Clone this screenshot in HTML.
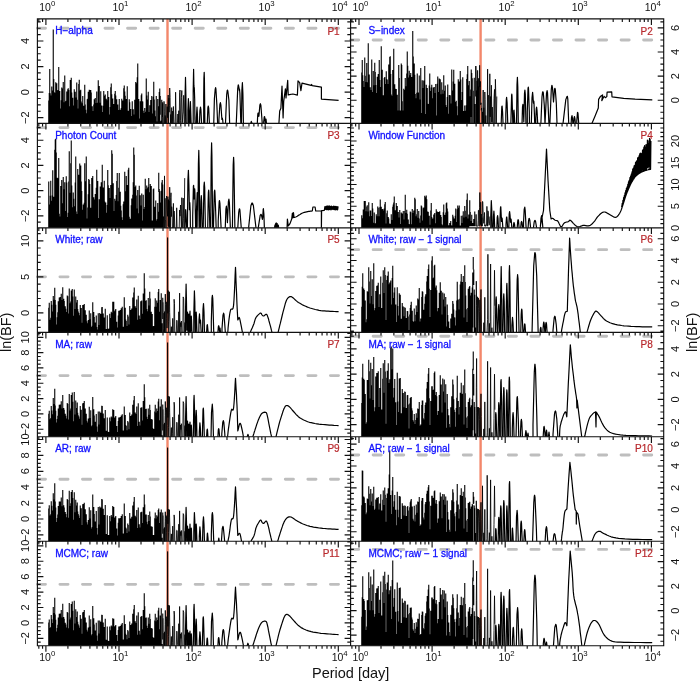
<!DOCTYPE html><html><head><meta charset="utf-8"><style>html,body{margin:0;padding:0;background:#fff;overflow:hidden}svg{display:block;will-change:transform}</style></head><body><svg width="700" height="682" viewBox="0 0 700 682" font-family='"Liberation Sans", sans-serif'><defs><clipPath id="c1"><rect x="37.40" y="18.90" width="313.20" height="104.47"/></clipPath><clipPath id="c2"><rect x="350.60" y="18.90" width="313.10" height="104.47"/></clipPath><clipPath id="c3"><rect x="37.40" y="123.37" width="313.20" height="104.47"/></clipPath><clipPath id="c4"><rect x="350.60" y="123.37" width="313.10" height="104.47"/></clipPath><clipPath id="c5"><rect x="37.40" y="227.83" width="313.20" height="104.47"/></clipPath><clipPath id="c6"><rect x="350.60" y="227.83" width="313.10" height="104.47"/></clipPath><clipPath id="c7"><rect x="37.40" y="332.30" width="313.20" height="104.47"/></clipPath><clipPath id="c8"><rect x="350.60" y="332.30" width="313.10" height="104.47"/></clipPath><clipPath id="c9"><rect x="37.40" y="436.77" width="313.20" height="104.47"/></clipPath><clipPath id="c10"><rect x="350.60" y="436.77" width="313.10" height="104.47"/></clipPath><clipPath id="c11"><rect x="37.40" y="541.23" width="313.20" height="104.47"/></clipPath><clipPath id="c12"><rect x="350.60" y="541.23" width="313.10" height="104.47"/></clipPath></defs><rect width="700" height="682" fill="#fff"/><line x1="167.50" y1="18.90" x2="167.50" y2="123.37" stroke="#f3876b" stroke-width="2.4"/><line x1="37.40" y1="28.25" x2="350.60" y2="28.25" stroke="#bebebe" stroke-width="2.9" stroke-dasharray="8.1 14.44" stroke-linecap="round"/><g clip-path="url(#c1)"><path d="M48.75,100.6V125.4M49.25,92.9V125.4M49.75,69.1V125.4M50.25,93.2V125.4M50.75,107.1V125.4M51.25,95.4V125.4M51.75,86.4V125.4M52.25,112.9V125.4M52.75,90.6V125.4M53.25,29.5V125.4M53.75,79.1V125.4M54.25,92.2V125.4M54.75,100.6V125.4M55.25,92.7V125.4M55.75,82.2V125.4M56.25,88.8V125.4M56.75,83.3V125.4M57.25,101.3V125.4M57.75,90.2V125.4M58.25,89.9V125.4M58.75,66.9V125.4M59.25,101.1V125.4M59.75,90.9V125.4M60.25,108.4V125.4M60.75,112.9V125.4M61.25,100.3V125.4M61.75,87.5V125.4M62.25,92.3V125.4M62.75,88.6V125.4M63.25,81.9V125.4M63.75,103.1V125.4M64.25,102.2V125.4M64.75,75.5V125.4M65.25,112.4V125.4M65.75,101.2V125.4M66.25,100.8V125.4M66.75,91.5V125.4M67.25,94.9V125.4M67.75,89.3V125.4M68.25,88.3V125.4M68.75,90.0V125.4M69.25,106.2V125.4M69.75,113.8V125.4M70.25,80.1V125.4M70.75,98.3V125.4M71.25,77.7V125.4M71.75,92.6V125.4M72.25,109.8V125.4M72.75,97.7V125.4M73.25,105.4V125.4M73.75,105.4V125.4M74.25,89.2V125.4M74.75,102.1V125.4M75.25,91.8V125.4M75.75,97.5V125.4M76.25,114.5V125.4M76.75,82.4V125.4M77.25,99.8V125.4M77.75,109.2V125.4M78.25,108.6V125.4M78.75,83.9V125.4M79.25,79.8V125.4M79.75,90.5V125.4M80.25,105.2V125.4M80.75,89.8V125.4M81.25,101.6V125.4M81.75,103.2V125.4M82.25,110.5V125.4M82.75,95.9V125.4M83.25,110.9V125.4M83.75,105.7V125.4M84.25,106.4V125.4M84.75,84.8V125.4M85.25,104.4V125.4M85.75,109.7V125.4M86.25,113.3V125.4M86.75,114.4V125.4M87.25,99.3V125.4M87.75,98.8V125.4M88.25,91.8V125.4M88.75,94.8V125.4M89.25,89.8V125.4M89.75,90.0V125.4M90.25,108.4V125.4M90.75,90.0V125.4M91.25,92.5V125.4M91.75,112.6V125.4M92.25,106.3V125.4M92.75,115.6V125.4M93.25,111.1V125.4M93.75,104.6V125.4M94.25,99.2V125.4M94.75,108.7V125.4M95.25,98.1V125.4M95.75,107.5V125.4M96.25,103.0V125.4M96.75,91.5V125.4M97.25,102.7V125.4M97.75,104.4V125.4M98.25,80.3V125.4M98.75,90.5V125.4M99.25,85.9V125.4M99.75,102.8V125.4M100.25,108.2V125.4M100.75,91.3V125.4M101.25,115.2V125.4M101.75,105.4V125.4M102.25,115.3V125.4M102.75,111.9V125.4M103.25,105.7V125.4M103.75,91.0V125.4M104.25,115.5V125.4M104.75,95.8V125.4M105.25,94.5V125.4M105.75,115.6V125.4M106.25,98.7V125.4M106.75,100.2V125.4M107.25,104.0V125.4M107.75,91.1V125.4M108.25,115.8V125.4M108.75,97.0V125.4M109.25,114.5V125.4M109.75,115.8V125.4M110.25,107.0V125.4M110.75,87.3V125.4M111.25,83.4V125.4M111.75,94.3V125.4M112.25,116.2V125.4M112.75,98.6V125.4M113.25,106.5V125.4M113.75,103.9V125.4M114.25,110.5V125.4M114.75,93.7V125.4M115.25,91.1V125.4M115.75,95.6V125.4M116.25,104.6V125.4M116.75,99.3V125.4M117.25,112.2V125.4M117.75,104.6V125.4M118.25,109.9V125.4M118.75,116.6V125.4M119.25,99.1V125.4M119.75,109.9V125.4M120.25,109.8V125.4M120.75,117.0V125.4M121.25,107.9V125.4M121.75,98.8V125.4M122.25,111.2V125.4M122.75,100.4V125.4M123.25,108.0V125.4M123.75,88.3V125.4M124.25,85.6V125.4M124.75,91.4V125.4M125.25,95.8V125.4M125.75,117.4V125.4M126.25,99.1V125.4M126.75,103.8V125.4M127.25,86.2V125.4M127.75,114.6V125.4M128.25,110.7V125.4M128.75,117.7V125.4M129.25,99.3V125.4M129.75,102.3V125.4M130.25,112.1V125.4M130.75,108.9V125.4M131.25,115.9V125.4M131.75,118.0V125.4M132.25,101.3V125.4M132.75,115.5V125.4M133.25,109.2V125.4M133.75,114.4V125.4M134.25,118.0V125.4M134.75,99.7V125.4M135.25,105.5V125.4M135.75,81.9V125.4M136.25,85.1V125.4M136.75,83.2V125.4M137.25,77.2V125.4M137.75,63.6V125.4M138.25,110.2V125.4M138.75,98.9V125.4M139.25,118.4V125.4M139.75,118.4V125.4M140.25,101.3V125.4M140.75,115.8V125.4M141.25,95.3V125.4M141.75,93.6V125.4M142.25,101.3V125.4M142.75,101.6V125.4M143.25,110.7V125.4M143.75,118.5V125.4M144.25,113.0V125.4M144.75,108.1V125.4M145.25,112.7V125.4M145.75,111.8V125.4M146.25,78.4V125.4M146.75,95.5V125.4M147.25,117.4V125.4M147.75,99.5V125.4M148.25,91.7V125.4M148.75,118.2V125.4M149.25,111.9V125.4M149.75,105.2V125.4M150.25,114.6V125.4M150.75,100.0V125.4M151.25,103.7V125.4M151.75,96.0V125.4M152.25,114.4V125.4M152.75,113.5V125.4M153.25,96.8V125.4M153.75,81.8V125.4M154.25,99.6V125.4M154.75,110.6V122.3M155.25,119.1V125.4M155.75,116.2V125.4M156.25,95.9V125.4M156.75,125.4V125.4M157.25,121.6V125.4M157.75,98.9V125.4M158.25,111.7V125.4M158.75,106.3V125.0M159.25,92.0V125.4M159.75,88.5V122.9M160.25,96.0V114.7M160.75,121.2V125.4M161.25,120.6V125.4M161.75,99.7V125.4M162.25,102.0V125.4M162.75,103.2V117.1" fill="none" stroke="#000" stroke-width="1.1"/><path d="M163.0,117.1 163.2,125.4 163.5,123.1 163.8,125.4 164.0,101.4 164.3,111.1 164.5,125.4 164.8,125.4 165.1,115.5 165.3,116.6 165.6,125.4 165.9,104.0 166.2,112.9 166.5,125.4 166.7,125.4 167.0,125.4 167.3,106.7 167.6,117.7 167.9,104.9 168.2,95.0 168.5,125.4 168.8,98.1 169.1,112.2 169.4,105.6 169.7,88.0 170.1,97.4 170.4,125.4 170.7,114.5 171.0,125.4 171.4,125.4 171.7,107.6 172.0,125.4 172.4,121.5 172.7,111.1 173.0,125.4 173.4,106.5 173.8,118.0 174.1,125.4 174.5,125.4 174.8,125.4 175.2,125.4 175.6,92.2 176.0,113.2 176.3,125.4 176.7,125.4 177.1,125.4 177.5,122.2 177.9,114.0 178.3,124.0 178.8,110.7 179.2,125.4 179.6,92.4 180.0,90.0 180.5,120.5 180.9,124.2 181.4,97.5 181.8,90.5 182.3,122.8 182.8,114.9 183.2,111.9 183.7,95.3 184.2,125.4 184.7,125.4 185.2,125.4 185.7,125.4" fill="none" stroke="#000" stroke-width="0.85" stroke-linejoin="round"/><path d="M184.9,125.4 184.9,104.8 185.5,77.4 185.9,95.7 186.2,121.8 186.4,125.4M187.9,125.4 187.9,110.2 188.4,98.7 189.2,125.4M189.9,125.4 189.9,112.1 190.4,101.5 191.2,125.4M193.2,125.4 193.2,90.9 193.6,69.4 193.9,85.9 194.2,88.4 194.3,87.7 194.7,99.6 194.9,119.2 195.2,125.4M196.4,125.4 196.4,117.7 197.0,107.1 197.4,114.2 197.7,124.2 197.9,125.4M199.4,125.4 199.9,110.8 200.5,107.0 200.9,109.6 201.7,125.4M203.7,125.4 203.7,96.9 203.9,78.5 204.2,72.3 204.4,78.5 204.9,125.4M207.2,125.4 207.9,107.6 208.3,106.0 208.7,108.1 209.4,123.3 209.7,125.4M213.7,125.4 214.4,98.8 215.2,89.3 215.6,87.7 215.9,88.9 216.9,105.6 217.7,125.4M218.9,125.4 218.9,119.8 219.9,104.3 220.4,102.6 220.9,105.1 221.9,119.5 222.3,118.0 222.7,119.9 223.2,125.4M225.4,125.4 226.7,94.6 227.2,90.7 227.5,90.0 227.9,91.5 228.9,100.3 229.7,125.4M236.2,125.4 237.7,88.9 238.2,85.2 238.4,84.9 238.9,87.3 239.2,90.1 239.5,89.0 239.9,93.2 240.9,125.4M241.4,125.4 241.9,90.0 242.4,82.7 242.9,93.7 243.4,123.0 243.7,125.4M250.7,125.4 250.7,123.6 251.3,121.4 251.7,122.4 252.2,125.4M257.2,125.4 257.7,115.5 257.9,113.6 258.2,113.0 258.4,113.6 258.9,116.3 259.9,104.9 260.4,103.7 260.9,105.5 262.4,125.4M263.7,125.4 263.7,121.9 264.2,117.3 264.5,116.5 264.9,118.2 265.4,124.0 266.0,119.0 266.7,125.4M278.8,125.4 279.7,111.1 280.9,108.3 282.0,86.0 283.1,118.0 283.7,101.4 285.4,88.9 286.0,98.0 287.7,80.3 288.2,95.0 289.4,94.6 292.9,94.0 297.4,95.1 298.0,80.9 299.7,82.6 300.9,90.6 302.0,83.1 311.1,85.4 311.6,84.5 312.2,85.6 321.4,87.1 321.4,99.1 338.6,100.3" fill="none" stroke="#000" stroke-width="1.2" stroke-linejoin="round"/></g><text x="55.20" y="34.40" fill="#1010ff" stroke="#1010ff" stroke-width="0.3" font-size="10">H−alpha</text><text x="339.70" y="34.50" fill="#b8282c" stroke="#b8282c" stroke-width="0.2" font-size="10" text-anchor="end">P1</text><line x1="480.60" y1="18.90" x2="480.60" y2="123.37" stroke="#f3876b" stroke-width="2.4"/><line x1="350.60" y1="39.95" x2="663.70" y2="39.95" stroke="#bebebe" stroke-width="2.9" stroke-dasharray="8.1 14.44" stroke-linecap="round"/><g clip-path="url(#c2)"><path d="M361.75,72.4V125.4M362.25,60.1V125.4M362.75,75.3V125.4M363.25,81.0V125.4M363.75,100.7V125.4M364.25,87.0V125.4M364.75,57.4V125.4M365.25,75.7V125.4M365.75,106.8V125.4M366.25,82.1V125.4M366.75,62.9V125.4M367.25,90.4V125.4M367.75,82.2V125.4M368.25,43.2V125.4M368.75,78.5V125.4M369.25,74.6V125.4M369.75,89.3V125.4M370.25,87.3V125.4M370.75,95.4V125.4M371.25,90.0V125.4M371.75,59.5V125.4M372.25,98.1V125.4M372.75,91.9V125.4M373.25,71.1V125.4M373.75,85.3V125.4M374.25,92.4V125.4M374.75,62.7V125.4M375.25,72.0V125.4M375.75,85.1V125.4M376.25,101.4V125.4M376.75,92.9V125.4M377.25,76.8V125.4M377.75,82.0V125.4M378.25,74.1V125.4M378.75,87.9V125.4M379.25,59.9V125.4M379.75,80.1V125.4M380.25,92.2V125.4M380.75,86.9V125.4M381.25,46.3V125.4M381.75,72.8V125.4M382.25,69.8V125.4M382.75,103.5V125.4M383.25,95.2V125.4M383.75,98.3V125.4M384.25,78.0V125.4M384.75,77.1V125.4M385.25,84.0V125.4M385.75,91.2V125.4M386.25,71.2V125.4M386.75,79.1V125.4M387.25,79.8V125.4M387.75,85.9V125.4M388.25,83.9V125.4M388.75,64.5V125.4M389.25,75.3V125.4M389.75,57.0V125.4M390.25,56.2V125.4M390.75,74.1V125.4M391.25,94.4V125.4M391.75,99.1V125.4M392.25,95.7V125.4M392.75,69.9V125.4M393.25,84.9V125.4M393.75,48.7V125.4M394.25,106.0V125.4M394.75,84.2V125.4M395.25,88.8V125.4M395.75,101.5V125.4M396.25,89.0V125.4M396.75,105.0V125.4M397.25,94.7V125.4M397.75,110.5V125.4M398.25,110.5V125.4M398.75,64.9V125.4M399.25,77.9V125.4M399.75,110.5V125.4M400.25,110.5V125.4M400.75,110.5V125.4M401.25,63.5V125.4M401.75,65.0V125.4M402.25,101.2V125.4M402.75,110.5V125.4M403.25,110.5V125.4M403.75,88.7V125.4M404.25,90.1V125.4M404.75,110.5V125.4M405.25,77.9V125.4M405.75,104.2V125.4M406.25,86.2V125.4M406.75,73.5V125.4M407.25,51.6V125.4M407.75,65.8V125.4M408.25,77.6V125.4M408.75,84.9V125.4M409.25,70.7V125.4M409.75,75.3V125.4M410.25,94.9V125.4M410.75,72.9V125.4M411.25,94.4V125.4M411.75,77.0V125.4M412.25,105.2V125.4M412.75,31.0V125.4M413.25,56.4V125.4M413.75,83.6V125.4M414.25,63.6V125.4M414.75,74.8V125.4M415.25,94.1V125.4M415.75,107.7V125.4M416.25,98.3V125.4M416.75,92.8V125.4M417.25,73.5V125.4M417.75,93.4V125.4M418.25,92.6V125.4M418.75,109.9V125.4M419.25,75.5V125.4M419.75,112.5V125.4M420.25,99.4V125.4M420.75,68.0V125.4M421.25,112.9V125.4M421.75,113.0V125.4M422.25,80.3V125.4M422.75,113.3V125.4M423.25,87.9V125.4M423.75,80.4V125.4M424.25,113.7V125.4M424.75,66.0V125.4M425.25,113.9V125.4M425.75,114.1V125.4M426.25,84.7V125.4M426.75,104.7V125.4M427.25,88.0V125.4M427.75,103.8V125.4M428.25,113.0V125.4M428.75,104.1V125.4M429.25,85.4V125.4M429.75,73.4V125.4M430.25,91.0V125.4M430.75,93.1V125.4M431.25,87.4V125.4M431.75,84.8V125.4M432.25,107.3V125.4M432.75,98.2V125.4M433.25,87.5V125.4M433.75,115.5V125.4M434.25,87.1V125.4M434.75,92.9V125.4M435.25,115.7V125.4M435.75,84.1V125.4M436.25,115.6V125.4M436.75,115.5V125.4M437.25,83.7V125.4M437.75,76.5V125.4M438.25,101.1V125.4M438.75,91.9V125.4M439.25,78.6V125.4M439.75,93.7V125.4M440.25,79.2V125.4M440.75,94.3V125.4M441.25,103.1V125.4M441.75,82.2V125.4M442.25,89.7V125.4M442.75,93.7V125.4M443.25,112.8V125.4M443.75,75.3V125.4M444.25,90.8V125.4M444.75,106.9V125.4M445.25,85.4V125.4M445.75,104.9V125.4M446.25,114.5V125.4M446.75,107.1V125.4M447.25,97.0V125.4M447.75,84.4V125.4M448.25,113.8V125.4M448.75,114.5V125.4M449.25,95.0V125.4M449.75,114.6V125.4M450.25,95.2V125.4M450.75,103.6V125.4M451.25,104.5V125.4M451.75,69.4V125.4M452.25,90.4V125.4M452.75,114.9V125.4M453.25,81.5V125.4M453.75,69.8V125.4M454.25,84.1V125.4M454.75,83.8V125.4M455.25,108.8V125.4M455.75,101.9V125.4M456.25,100.8V125.4M456.75,106.2V125.4M457.25,115.3V125.4M457.75,115.3V125.4M458.25,79.3V125.4M458.75,101.3V125.4M459.25,81.4V125.4M459.75,108.0V125.4M460.25,71.1V125.4M460.75,79.6V125.4M461.25,115.6V125.4M461.75,99.9V125.4M462.25,92.1V125.4M462.75,77.2V125.4M463.25,114.4V125.4M463.75,110.9V125.4M464.25,115.5V125.4M464.75,105.6V125.4M465.25,110.8V125.4M465.75,115.3V125.4M466.25,105.3V125.4M466.75,79.0V125.4M467.25,74.3V125.4M467.75,66.1V125.4M468.25,86.8V118.0M468.75,85.2V125.4M469.25,81.1V125.4M469.75,96.3V125.4M470.25,110.4V125.4M470.75,89.4V117.1M471.25,69.4V96.1M471.75,73.0V125.4M472.25,78.3V125.4M472.75,125.4V125.4M473.25,125.4V125.4M473.75,90.7V125.4M474.25,77.8V125.4M474.75,116.5V125.4M475.25,104.0V125.4M475.75,66.1V96.4" fill="none" stroke="#000" stroke-width="1.1"/><path d="M475.9,66.1 476.1,80.7 476.3,125.4 476.6,90.6 476.9,124.2 477.1,80.8 477.4,125.4 477.6,70.4 477.9,125.4 478.2,86.5 478.4,125.4 478.7,78.3 479.0,101.5 479.3,125.4 479.6,65.3 479.8,87.1 480.1,83.6 480.4,81.4 480.7,104.7 481.0,102.8 481.3,110.3 481.6,108.0 481.9,125.4 482.2,125.4 482.5,111.9 482.8,125.4 483.2,90.0 483.5,125.4 483.8,107.8 484.1,125.4 484.5,125.4 484.8,92.0 485.1,99.4 485.5,125.0 485.8,115.5 486.1,125.4 486.5,125.4 486.9,124.5 487.2,123.4 487.6,69.1 487.9,125.4 488.3,95.2 488.7,96.8 489.1,125.4 489.4,123.3 489.8,73.8 490.2,116.9 490.6,96.5 491.0,125.4 491.4,85.2 491.9,121.9 492.3,107.1 492.7,125.4 493.1,125.4 493.6,125.4 494.0,98.3 494.5,89.4 494.9,125.4 495.4,79.3 495.9,99.1 496.3,125.4 496.8,96.5" fill="none" stroke="#000" stroke-width="0.85" stroke-linejoin="round"/><path d="M501.1,125.4 501.8,106.8 502.1,106.1 502.6,112.2 503.1,125.4M505.8,125.4 505.8,114.3 506.3,99.8 506.6,97.4 507.1,102.7 507.8,125.4M510.8,125.4 511.6,95.8 511.8,94.0 512.0,95.8 512.8,122.7 513.0,125.4M513.3,125.4 513.8,111.0 514.0,110.1 514.5,117.7 514.8,125.4M516.5,125.4 517.0,84.5 517.4,77.4 517.8,86.7 518.3,124.4 518.5,125.4M522.0,125.4 522.5,106.9 522.9,104.3 523.3,107.8 523.8,121.8 524.5,93.3 524.9,90.0 525.3,94.3 526.0,125.4M527.3,125.4 527.3,111.7 528.0,88.6 528.3,87.1 528.5,88.6 529.3,111.7 529.5,125.4M531.3,125.4 532.0,98.1 532.6,92.3 533.0,96.2 533.3,101.7 533.5,103.1 533.8,101.0 534.0,103.1 534.8,125.4M535.8,125.4 535.8,117.7 536.3,108.5 536.6,107.0 537.0,110.4 537.8,125.4M540.8,125.4 542.0,96.7 542.5,92.6 542.9,91.7 543.3,92.8 544.3,105.4 545.0,124.0 546.5,93.4 547.1,90.6 547.5,92.5 549.0,125.4M549.8,125.4 551.3,89.3 551.8,85.7 552.0,85.4 552.5,87.8 553.5,102.0 554.5,89.2 554.9,88.3 555.3,89.5 556.3,103.1 557.0,123.1 557.3,125.4M562.8,125.4 565.8,99.6 567.0,96.5 567.4,96.3 567.8,99.1 568.8,125.4M571.0,125.4 571.5,117.5 572.0,115.7 572.5,118.3 573.0,125.4M573.5,125.4 574.0,118.2 574.5,116.5 575.0,119.0 575.5,125.4M576.8,125.4 576.8,120.6 577.5,112.5 577.7,112.3 578.0,113.6 578.8,124.7 579.0,125.4M591.1,125.4 595.1,116.0 598.3,108.0 598.6,99.4 600.3,96.6 602.6,94.9 601.8,100.6 604.1,96.3 605.4,97.7 606.8,96.6 607.1,92.2 611.7,91.8 612.0,96.8 623.7,98.3 635.1,99.1 652.3,99.8" fill="none" stroke="#000" stroke-width="1.2" stroke-linejoin="round"/></g><text x="368.40" y="34.40" fill="#1010ff" stroke="#1010ff" stroke-width="0.3" font-size="10">S−index</text><text x="652.80" y="34.50" fill="#b8282c" stroke="#b8282c" stroke-width="0.2" font-size="10" text-anchor="end">P2</text><line x1="167.50" y1="123.37" x2="167.50" y2="227.83" stroke="#f3876b" stroke-width="2.4"/><line x1="37.40" y1="127.60" x2="350.60" y2="127.60" stroke="#bebebe" stroke-width="2.9" stroke-dasharray="8.1 14.44" stroke-linecap="round"/><g clip-path="url(#c3)"><path d="M48.75,181.6V229.8M49.25,204.4V229.8M49.75,207.7V229.8M50.25,195.7V229.8M50.75,180.8V229.8M51.25,200.8V229.8M51.75,214.8V229.8M52.25,195.6V229.8M52.75,170.3V229.8M53.25,205.8V229.8M53.75,196.8V229.8M54.25,209.4V229.8M54.75,149.8V229.8M55.25,139.4V229.8M55.75,138.7V229.8M56.25,152.4V229.8M56.75,203.6V229.8M57.25,177.8V229.8M57.75,178.3V229.8M58.25,199.6V229.8M58.75,157.9V229.8M59.25,213.8V229.8M59.75,216.6V229.8M60.25,216.7V229.8M60.75,186.1V229.8M61.25,216.7V229.8M61.75,179.9V229.8M62.25,203.3V229.8M62.75,216.8V229.8M63.25,176.9V229.8M63.75,189.3V229.8M64.25,216.9V229.8M64.75,182.3V229.8M65.25,216.9V229.8M65.75,211.0V229.8M66.25,176.2V229.8M66.75,182.4V229.8M67.25,217.0V229.8M67.75,217.1V229.8M68.25,212.8V229.8M68.75,181.6V229.8M69.25,151.2V229.8M69.75,211.1V229.8M70.25,192.7V229.8M70.75,163.3V229.8M71.25,140.4V229.8M71.75,185.4V229.8M72.25,217.3V229.8M72.75,207.2V229.8M73.25,192.5V229.8M73.75,198.8V229.8M74.25,206.3V229.8M74.75,217.4V229.8M75.25,182.6V229.8M75.75,156.4V229.8M76.25,211.5V229.8M76.75,217.5V229.8M77.25,214.1V229.8M77.75,169.0V229.8M78.25,191.3V229.8M78.75,174.8V229.8M79.25,184.8V229.8M79.75,163.5V229.8M80.25,194.9V229.8M80.75,165.4V229.8M81.25,181.6V229.8M81.75,191.1V229.8M82.25,218.1V229.8M82.75,209.7V229.8M83.25,204.5V229.8M83.75,215.8V229.8M84.25,202.7V229.8M84.75,163.3V229.8M85.25,181.2V229.8M85.75,189.9V229.8M86.25,156.6V229.8M86.75,218.6V229.8M87.25,218.6V229.8M87.75,207.5V229.8M88.25,194.2V229.8M88.75,179.1V229.8M89.25,180.0V229.8M89.75,183.9V229.8M90.25,213.4V229.8M90.75,207.7V229.8M91.25,219.1V229.8M91.75,178.1V229.8M92.25,205.6V229.8M92.75,175.9V229.8M93.25,210.7V229.8M93.75,197.2V229.8M94.25,199.5V229.8M94.75,218.8V229.8M95.25,193.9V229.8M95.75,211.8V229.8M96.25,187.8V229.8M96.75,169.7V229.8M97.25,206.9V229.8M97.75,181.0V229.8M98.25,218.5V229.8M98.75,218.1V229.8M99.25,199.2V229.8M99.75,212.9V229.8M100.25,186.4V229.8M100.75,198.0V229.8M101.25,182.2V229.8M101.75,210.0V229.8M102.25,164.7V229.8M102.75,205.0V229.8M103.25,187.4V229.8M103.75,192.5V229.8M104.25,180.8V229.8M104.75,201.5V229.8M105.25,215.4V229.8M105.75,202.5V229.8M106.25,212.7V229.8M106.75,217.6V229.8M107.25,205.0V229.8M107.75,170.1V229.8M108.25,185.3V229.8M108.75,189.5V229.8M109.25,188.0V229.8M109.75,197.9V229.8M110.25,208.6V229.8M110.75,185.0V229.8M111.25,203.7V229.8M111.75,150.3V229.8M112.25,153.8V229.8M112.75,205.4V229.8M113.25,183.3V229.8M113.75,219.3V229.8M114.25,211.0V229.8M114.75,198.7V229.8M115.25,202.5V229.8M115.75,200.7V229.8M116.25,195.1V229.8M116.75,181.0V229.8M117.25,173.1V229.8M117.75,201.3V229.8M118.25,213.7V229.8M118.75,187.8V229.8M119.25,173.1V229.8M119.75,220.4V229.8M120.25,191.7V229.8M120.75,205.8V229.8M121.25,210.5V229.8M121.75,217.2V229.8M122.25,220.2V229.8M122.75,220.1V229.8M123.25,204.2V229.8M123.75,201.5V229.8M124.25,202.2V229.8M124.75,171.7V229.8M125.25,191.3V229.8M125.75,200.6V229.8M126.25,175.9V229.8M126.75,196.0V229.8M127.25,185.1V229.8M127.75,189.7V229.8M128.25,169.7V229.8M128.75,167.7V229.8M129.25,216.7V229.8M129.75,218.7V229.8M130.25,218.7V229.8M130.75,218.8V229.8M131.25,205.3V229.8M131.75,198.6V229.8M132.25,206.8V229.8M132.75,194.8V229.8M133.25,182.2V229.8M133.75,147.4V229.8M134.25,154.7V229.8M134.75,201.5V229.8M135.25,187.0V229.8M135.75,185.6V229.8M136.25,195.4V229.8M136.75,208.4V229.8M137.25,219.7V229.8M137.75,190.0V229.8M138.25,215.8V229.8M138.75,213.2V229.8M139.25,185.7V229.8M139.75,211.4V229.8M140.25,195.2V229.8M140.75,220.2V229.8M141.25,205.6V229.8M141.75,193.5V229.8M142.25,220.4V229.8M142.75,220.4V229.8M143.25,194.7V229.8M143.75,209.0V229.8M144.25,213.0V229.8M144.75,207.0V229.8M145.25,178.8V229.8M145.75,193.7V229.8M146.25,189.2V229.8M146.75,185.5V229.8M147.25,219.7V229.8M147.75,188.2V229.8M148.25,187.0V229.8M148.75,178.0V229.8M149.25,192.3V229.8M149.75,202.0V229.8M150.25,183.9V229.8M150.75,189.3V229.8M151.25,185.9V229.8M151.75,220.4V229.8M152.25,220.4V229.8M152.75,220.4V229.8M153.25,189.2V229.8M153.75,188.6V229.8M154.25,218.4V229.8M154.75,206.8V229.8M155.25,220.4V229.8M155.75,200.6V226.1M156.25,220.4V229.8M156.75,229.8V229.8M157.25,219.0V229.8M157.75,202.9V229.8M158.25,211.8V229.8M158.75,172.8V191.9M159.25,189.0V229.8M159.75,191.3V229.8M160.25,229.8V229.8M160.75,202.5V229.8M161.25,190.7V229.8M161.75,182.6V229.8M162.25,179.9V192.6M162.75,184.4V229.8" fill="none" stroke="#000" stroke-width="1.1"/><path d="M163.0,229.8 163.2,229.8 163.5,216.6 163.8,224.1 164.0,229.8 164.3,195.2 164.5,175.9 164.8,229.8 165.1,198.3 165.3,219.9 165.6,221.0 165.9,229.8 166.2,229.8 166.5,196.0 166.7,196.7 167.0,199.5 167.3,210.9 167.6,216.3 167.9,196.6 168.2,226.5 168.5,199.6 168.8,226.8 169.1,200.8 169.4,229.8 169.7,187.2 170.1,213.2 170.4,229.8 170.7,197.5 171.0,192.8 171.4,216.6 171.7,206.7 172.0,209.4 172.4,229.8 172.7,227.3 173.0,228.8 173.4,203.4 173.8,229.8 174.1,211.0 174.5,217.0 174.8,229.8 175.2,229.8 175.6,229.8 176.0,229.8 176.3,228.8 176.7,207.8 177.1,229.8 177.5,229.3 177.9,229.8 178.3,229.8 178.8,229.8 179.2,228.7 179.6,210.1 180.0,216.1 180.5,205.0 180.9,213.8 181.4,229.8 181.8,197.7 182.3,220.1 182.8,229.8 183.2,198.1 183.7,218.3 184.2,229.8 184.7,178.1" fill="none" stroke="#000" stroke-width="0.85" stroke-linejoin="round"/><path d="M184.9,229.8 185.4,211.4 185.7,209.5 185.9,211.4 186.7,229.8M187.4,229.8 187.9,180.0 188.4,170.3 188.9,184.8 189.4,209.7 189.8,202.6 190.2,211.9 190.4,227.2 190.7,229.8M192.7,229.8 192.7,216.0 193.4,186.2 193.6,185.3 193.9,189.9 194.2,198.9 194.7,188.8 194.9,192.0 195.7,229.8M196.4,229.8 196.4,212.3 197.2,192.7 197.7,209.3 197.9,226.6 198.4,163.9 198.8,150.4 199.2,168.1 199.7,229.8M200.4,229.8 200.9,201.1 201.3,195.7 201.7,202.8 202.2,229.8M203.2,229.8 203.9,186.4 204.3,182.2 204.7,187.7 205.4,227.3 205.7,229.8M207.7,229.8 208.2,198.8 208.4,192.4 208.7,190.2 208.9,192.4 209.9,229.8M210.7,229.8 211.2,158.4 211.6,142.9 211.9,154.8 212.7,229.8M213.4,229.8 214.2,195.7 214.4,191.6 214.7,190.2 214.9,191.6 215.7,212.3 216.2,229.8M218.2,229.8 218.2,221.0 219.2,201.6 219.5,200.5 219.9,203.0 221.2,229.8M225.2,229.8 225.9,209.0 226.4,206.0 226.9,210.5 227.4,222.6 228.4,201.6 228.9,199.1 229.4,202.9 230.4,229.3 230.7,229.8M232.4,229.8 233.2,165.1 233.6,157.3 233.9,163.3 234.9,229.8M237.7,229.8 238.7,212.6 239.2,209.3 239.5,208.8 239.9,210.0 241.4,229.8M248.4,229.8 250.9,205.7 251.9,203.0 252.4,203.0 253.4,205.7 256.2,229.8M258.4,229.8 258.4,226.8 260.2,215.3 260.9,214.3 261.4,214.9 262.4,219.3 262.7,217.7 263.2,209.4 263.4,208.7 263.9,214.3 264.4,229.0 264.7,229.8M274.7,229.8 274.7,227.8 275.7,223.7 276.3,223.0 276.9,223.8 278.2,229.8M274.2,229.8 275.0,224.8 275.3,229.8 276.0,223.4 276.6,229.8 277.2,223.6 277.7,229.8 278.3,225.2 278.9,229.8M287.0,229.8 287.4,219.0 288.3,226.0 290.0,223.6 291.7,219.0 292.4,213.0 292.9,218.0 293.5,212.7 294.0,217.5 294.0,217.5 294.4,217.4 294.8,217.3 295.1,217.2 295.6,217.0 296.3,216.7 297.2,216.2 298.3,215.4 299.6,214.7 300.8,213.9 302.0,213.3 303.2,212.8 304.3,212.4 305.5,212.1 306.6,211.8 307.7,211.6 308.7,211.4 309.6,211.3 310.5,211.2 311.4,211.1 312.3,211.0 312.9,207.0 315.1,207.0 315.7,211.0 321.4,210.8 321.4,229.8 321.6,210.7 324.3,210.4 324.9,206.5 325.4,209.4 326.0,206.3 326.6,209.7 327.1,205.9 327.7,209.7 328.2,206.2 328.8,209.9 329.3,205.9 329.9,209.3 330.4,206.4 331.0,209.8 331.5,206.2 332.1,209.3 332.6,206.6 333.2,209.4 333.7,206.2 334.3,209.6 334.8,206.4 335.4,209.9 335.9,206.3 336.5,209.7 337.0,206.6 337.6,209.9 338.1,206.4" fill="none" stroke="#000" stroke-width="1.2" stroke-linejoin="round"/></g><text x="55.20" y="138.87" fill="#1010ff" stroke="#1010ff" stroke-width="0.3" font-size="10">Photon Count</text><text x="339.70" y="138.97" fill="#b8282c" stroke="#b8282c" stroke-width="0.2" font-size="10" text-anchor="end">P3</text><line x1="480.60" y1="123.37" x2="480.60" y2="227.83" stroke="#f3876b" stroke-width="2.4"/><g clip-path="url(#c4)"><path d="M361.75,215.2V229.8M362.25,223.0V229.8M362.75,218.3V229.8M363.25,209.4V229.8M363.75,219.5V229.8M364.25,201.0V229.8M364.75,203.3V229.8M365.25,201.0V229.8M365.75,211.2V229.8M366.25,223.1V229.8M366.75,206.4V229.8M367.25,205.3V229.8M367.75,223.1V229.8M368.25,211.5V229.8M368.75,202.3V229.8M369.25,220.7V229.8M369.75,216.2V229.8M370.25,210.6V229.8M370.75,210.6V229.8M371.25,216.1V229.8M371.75,223.2V229.8M372.25,202.9V229.8M372.75,208.6V229.8M373.25,222.7V229.8M373.75,223.3V229.8M374.25,212.6V229.8M374.75,223.2V229.8M375.25,223.3V229.8M375.75,223.3V229.8M376.25,214.3V229.8M376.75,216.2V229.8M377.25,223.4V229.8M377.75,206.6V229.8M378.25,207.7V229.8M378.75,216.2V229.8M379.25,218.4V229.8M379.75,207.2V229.8M380.25,199.4V229.8M380.75,219.5V229.8M381.25,206.7V229.8M381.75,209.3V229.8M382.25,218.1V229.8M382.75,209.0V229.8M383.25,223.5V229.8M383.75,210.5V229.8M384.25,208.5V229.8M384.75,204.3V229.8M385.25,202.0V229.8M385.75,223.6V229.8M386.25,223.6V229.8M386.75,213.2V229.8M387.25,210.6V229.8M387.75,221.8V229.8M388.25,217.0V229.8M388.75,218.4V229.8M389.25,223.6V229.8M389.75,223.7V229.8M390.25,223.7V229.8M390.75,223.7V229.8M391.25,214.3V229.8M391.75,219.9V229.8M392.25,222.2V229.8M392.75,206.7V229.8M393.25,204.5V229.8M393.75,202.4V229.8M394.25,196.5V229.8M394.75,223.8V229.8M395.25,210.2V229.8M395.75,211.4V229.8M396.25,203.1V229.8M396.75,220.7V229.8M397.25,206.1V229.8M397.75,223.9V229.8M398.25,212.0V229.8M398.75,217.4V229.8M399.25,223.9V229.8M399.75,210.1V229.8M400.25,223.9V229.8M400.75,223.9V229.8M401.25,212.5V229.8M401.75,217.6V229.8M402.25,213.4V229.8M402.75,219.9V229.8M403.25,211.0V229.8M403.75,224.0V229.8M404.25,219.4V229.8M404.75,211.0V229.8M405.25,194.8V229.8M405.75,212.9V229.8M406.25,220.3V229.8M406.75,209.7V229.8M407.25,213.7V229.8M407.75,224.1V229.8M408.25,219.6V229.8M408.75,224.1V229.8M409.25,224.2V229.8M409.75,224.2V229.8M410.25,211.5V229.8M410.75,212.2V229.8M411.25,224.2V229.8M411.75,224.2V229.8M412.25,209.0V229.8M412.75,216.0V229.8M413.25,213.1V229.8M413.75,210.5V229.8M414.25,210.6V229.8M414.75,197.8V229.8M415.25,199.3V229.8M415.75,216.3V229.8M416.25,217.7V229.8M416.75,214.3V229.8M417.25,209.0V229.8M417.75,217.8V229.8M418.25,221.0V229.8M418.75,211.1V229.8M419.25,218.6V229.8M419.75,222.7V229.8M420.25,224.5V229.8M420.75,215.4V229.8M421.25,205.5V229.8M421.75,206.5V229.8M422.25,224.5V229.8M422.75,220.5V229.8M423.25,208.2V229.8M423.75,207.4V229.8M424.25,211.3V229.8M424.75,195.7V229.8M425.25,197.3V229.8M425.75,215.1V229.8M426.25,195.4V229.8M426.75,199.2V229.8M427.25,223.3V229.8M427.75,211.6V229.8M428.25,211.9V229.8M428.75,224.7V229.8M429.25,215.8V229.8M429.75,224.7V229.8M430.25,224.8V229.8M430.75,210.6V229.8M431.25,203.0V229.8M431.75,216.9V229.8M432.25,221.2V229.8M432.75,218.4V229.8M433.25,224.9V229.8M433.75,214.4V229.8M434.25,215.2V229.8M434.75,212.9V229.8M435.25,223.3V229.8M435.75,225.0V229.8M436.25,209.2V229.8M436.75,223.4V229.8M437.25,211.5V229.8M437.75,213.3V229.8M438.25,212.1V229.8M438.75,212.1V229.8M439.25,225.1V229.8M439.75,211.2V229.8M440.25,217.0V229.8M440.75,215.1V229.8M441.25,216.9V229.8M441.75,224.2V229.8M442.25,225.2V229.8M442.75,225.2V229.8M443.25,212.3V229.8M443.75,204.6V229.8M444.25,214.7V229.8M444.75,215.0V229.8M445.25,225.2V229.8M445.75,212.5V229.8M446.25,203.3V229.8M446.75,202.6V229.8M447.25,208.6V229.8M447.75,211.4V229.8M448.25,225.3V229.8M448.75,225.3V229.8M449.25,225.3V229.8M449.75,223.1V229.8M450.25,225.4V229.8M450.75,221.0V229.8M451.25,225.2V229.8M451.75,225.4V229.8M452.25,225.4V229.8M452.75,214.7V229.8M453.25,216.5V229.8M453.75,218.4V229.8M454.25,218.4V229.8M454.75,224.9V229.8M455.25,215.7V229.8M455.75,208.5V229.8M456.25,222.6V229.8M456.75,222.0V229.8M457.25,209.3V229.8M457.75,205.5V229.8M458.25,212.5V229.8M458.75,207.8V229.8M459.25,205.4V229.8M459.75,225.6V229.8M460.25,225.6V229.8M460.75,225.6V229.8M461.25,215.8V229.8M461.75,225.6V229.8M462.25,223.0V229.8M462.75,215.5V229.8M463.25,211.3V229.8M463.75,225.6V229.8M464.25,217.5V229.8M464.75,206.0V229.8M465.25,210.8V229.8M465.75,225.5V229.8M466.25,216.8V229.8M466.75,199.7V229.8M467.25,193.4V229.8M467.75,225.6V229.8M468.25,218.5V226.2M468.75,214.4V229.8M469.25,226.2V226.2M469.75,200.2V226.2M470.25,212.1V226.2M470.75,221.0V226.2M471.25,226.2V226.2M471.75,214.7V226.2M472.25,226.2V226.2M472.75,222.9V226.2M473.25,226.2V226.2M473.75,218.9V226.2M474.25,220.7V226.2M474.75,211.5V226.2M475.25,226.2V226.2M475.75,226.2V226.2" fill="none" stroke="#000" stroke-width="1.1"/><path d="M475.9,226.2 476.1,214.4 476.3,226.2 476.6,226.2 476.9,226.2 477.1,226.2 477.4,226.2 477.6,226.2 477.9,226.2 478.2,220.5 478.4,210.3 478.7,210.2 479.0,226.2 479.3,226.2 479.6,207.5 479.8,192.5 480.1,210.5 480.4,224.6 480.7,202.2 481.0,226.2 481.3,214.0 481.6,226.2 481.9,217.6 482.2,226.2 482.5,201.4 482.8,201.8 483.2,215.2 483.5,221.1 483.8,223.4 484.1,221.1 484.5,212.5 484.8,226.2 485.1,224.7 485.5,226.2 485.8,226.2 486.1,226.2 486.5,225.0 486.9,206.4 487.2,215.5 487.6,226.2 487.9,210.8 488.3,211.9 488.7,223.5 489.1,225.3 489.4,224.9 489.8,216.5" fill="none" stroke="#000" stroke-width="0.85" stroke-linejoin="round"/><path d="M490.8,229.8 490.8,215.4 491.3,200.7 491.8,210.6 492.2,229.8M493.2,229.8 493.5,216.3 493.9,211.1 494.2,215.1 494.8,229.8M496.8,229.8 497.2,217.7 497.6,215.7 498.0,218.3 498.5,228.8 498.8,229.8M500.0,229.8 500.0,219.0 500.5,207.6 500.8,206.7 501.5,221.5 501.8,218.9 502.0,218.0 502.2,218.9 503.0,229.8M506.0,229.8 506.0,224.3 506.5,217.6 506.8,217.0 507.2,221.5 507.8,229.8M508.8,229.8 509.2,214.0 509.6,211.5 510.0,214.8 510.5,222.2 510.8,219.8 511.0,219.0 511.2,219.8 512.0,229.8M513.0,229.8 513.8,222.9 514.0,222.5 514.5,224.1 515.0,229.0 515.2,229.8M517.0,229.8 517.8,220.5 518.1,219.6 518.5,220.8 519.2,229.2 519.5,229.8M520.5,229.8 521.2,222.2 521.6,221.5 522.0,222.5 522.8,229.8M523.5,229.8 523.5,223.0 524.2,209.4 524.8,207.2 525.2,210.5 526.2,229.8M528.0,229.8 528.5,221.2 529.0,218.5 529.2,218.3 529.8,220.1 530.8,229.8M533.2,229.8 534.2,221.9 534.8,220.5 535.0,220.3 535.5,221.0 536.8,229.1 537.0,229.8M540.2,229.8 541.0,218.3 541.6,215.7 542.0,216.8 543.0,229.8M540.3,226.2 543.5,210.5 545.0,180.0 546.5,149.1 548.0,180.0 549.8,210.5 551.1,219.0 551.1,219.0 551.4,218.8 551.6,218.6 551.9,218.4 552.2,218.3 552.6,218.3 553.1,218.5 553.6,219.0 554.2,219.4 554.7,219.9 555.3,220.3 555.8,220.5 556.3,220.5 556.8,220.6 557.3,220.7 557.9,221.2 558.5,222.2 559.1,223.6 559.8,225.0 560.4,226.2 561.1,226.8 561.7,226.6 562.4,225.8 563.0,224.7 563.7,223.7 564.4,222.9 565.2,222.5 566.0,222.2 566.8,222.0 567.6,221.8 568.3,221.6 568.8,221.3 569.2,220.8 569.5,220.5 569.8,220.2 570.3,220.3 570.9,220.7 571.7,221.5 572.5,222.4 573.3,223.3 574.1,224.1 574.8,224.8 575.5,225.5 576.3,226.1 577.0,226.6 577.9,226.9 578.9,226.8 579.9,226.5 581.0,226.1 582.1,225.7 583.3,225.4 584.5,225.4 585.8,225.6 587.0,225.8 588.3,225.9 589.4,225.7 590.4,225.2 591.3,224.6 592.2,223.8 593.0,222.9 593.9,221.9 594.8,220.8 595.7,219.5 596.6,218.2 597.5,216.9 598.5,215.8 599.5,214.8 600.6,213.8 601.6,213.0 602.7,212.3 603.8,212.0 604.9,212.0 605.9,212.4 607.0,213.0 608.1,213.6 609.2,214.2 610.4,214.9 611.7,215.7 613.0,216.5 614.2,217.1 615.3,217.3 616.2,217.1 617.0,216.7 617.7,216.0 618.4,215.2 619.1,214.2 619.7,213.2 620.3,212.0 620.9,210.7 621.5,209.2 622.1,207.4 622.8,205.3 623.6,202.8 624.4,200.2 625.2,197.6 626.0,195.2 626.9,192.9 627.8,190.7 628.7,188.5 629.6,186.4 630.5,184.5 631.4,182.7 632.3,181.1 633.1,179.6 634.1,178.2 635.1,176.9 636.2,175.8 637.4,174.7 638.7,173.8 640.0,173.0 641.2,172.3 642.5,171.7 643.8,171.1 645.0,170.7 646.2,170.3 647.3,170.0 648.2,169.7 649.0,169.6 649.7,169.4 650.4,169.3 651.1,169.2M621.5,205.7 621.9,207.1 622.2,203.3 622.6,205.9 622.9,200.3 623.3,203.4 623.6,197.5 624.0,201.2 624.3,195.6 624.7,199.2 625.0,192.8 625.4,197.1 625.7,190.5 626.1,194.8 626.4,188.4 626.8,193.1 627.1,186.8 627.5,191.2 627.8,184.3 628.2,189.4 628.5,181.8 628.9,188.3 629.2,180.3 629.6,186.7 629.9,177.7 630.3,184.7 630.6,176.1 631.0,182.9 631.3,174.2 631.7,182.1 632.0,171.8 632.4,181.2 632.7,169.0 633.1,180.0 633.4,168.2 633.8,178.9 634.1,165.9 634.5,178.0 634.8,165.4 635.2,176.6 635.5,162.5 635.9,175.0 636.2,161.6 636.6,174.5 636.9,160.6 637.3,174.0 637.6,157.9 638.0,173.8 638.3,157.5 638.7,172.6 639.0,155.8 639.4,172.5 639.7,153.9 640.1,172.4 640.4,153.1 640.8,172.3 641.1,153.8 641.5,171.4 641.8,153.4 642.2,170.6 642.5,150.3 642.9,170.2 643.2,149.4 643.6,171.0 643.9,147.0 644.3,170.5 644.6,145.6 645.0,170.6 645.3,147.6 645.7,170.0 646.0,144.7 646.4,169.5 646.7,144.9 647.1,168.1 647.4,140.1 647.8,167.3 648.1,143.9 648.5,167.0 648.8,140.8 649.2,169.2 649.5,138.4 649.9,166.5 650.2,139.5 650.6,168.7 650.9,141.1" fill="none" stroke="#000" stroke-width="1.2" stroke-linejoin="round"/></g><text x="368.40" y="138.87" fill="#1010ff" stroke="#1010ff" stroke-width="0.3" font-size="10">Window Function</text><text x="652.80" y="138.97" fill="#b8282c" stroke="#b8282c" stroke-width="0.2" font-size="10" text-anchor="end">P4</text><line x1="167.50" y1="227.83" x2="167.50" y2="332.30" stroke="#f3876b" stroke-width="2.4"/><line x1="37.40" y1="276.85" x2="350.60" y2="276.85" stroke="#bebebe" stroke-width="2.9" stroke-dasharray="8.1 14.44" stroke-linecap="round"/><g clip-path="url(#c5)"><path d="M48.75,307.7V334.3M49.25,302.8V334.3M49.75,320.7V334.3M50.25,319.8V334.3M50.75,317.8V334.3M51.25,301.1V334.3M51.75,304.7V334.3M52.25,326.7V334.3M52.75,311.4V334.3M53.25,296.0V334.3M53.75,299.7V334.3M54.25,326.0V334.3M54.75,287.8V334.3M55.25,300.1V334.3M55.75,304.7V334.3M56.25,324.4V334.3M56.75,325.2V334.3M57.25,317.3V334.3M57.75,312.2V334.3M58.25,301.2V334.3M58.75,301.9V334.3M59.25,297.6V334.3M59.75,314.0V334.3M60.25,296.9V334.3M60.75,298.9V334.3M61.25,293.8V334.3M61.75,299.9V334.3M62.25,309.4V334.3M62.75,287.3V334.3M63.25,309.4V334.3M63.75,298.7V334.3M64.25,301.0V334.3M64.75,313.4V334.3M65.25,306.3V334.3M65.75,308.7V334.3M66.25,312.1V334.3M66.75,319.2V334.3M67.25,295.4V334.3M67.75,296.3V334.3M68.25,319.8V334.3M68.75,313.4V334.3M69.25,288.6V334.3M69.75,303.2V334.3M70.25,316.9V334.3M70.75,301.5V334.3M71.25,290.5V334.3M71.75,305.6V334.3M72.25,289.0V334.3M72.75,296.5V334.3M73.25,323.5V334.3M73.75,315.8V334.3M74.25,289.6V334.3M74.75,311.0V334.3M75.25,308.9V334.3M75.75,296.6V334.3M76.25,302.6V334.3M76.75,308.4V334.3M77.25,300.1V334.3M77.75,308.9V334.3M78.25,311.6V334.3M78.75,313.0V334.3M79.25,315.3V334.3M79.75,320.5V334.3M80.25,305.0V334.3M80.75,325.3V334.3M81.25,308.1V334.3M81.75,326.4V334.3M82.25,322.7V334.3M82.75,305.0V334.3M83.25,304.9V334.3M83.75,305.3V334.3M84.25,304.1V334.3M84.75,312.2V334.3M85.25,310.3V334.3M85.75,328.2V334.3M86.25,314.7V334.3M86.75,321.2V334.3M87.25,323.2V334.3M87.75,323.7V334.3M88.25,320.0V334.3M88.75,325.3V334.3M89.25,310.6V334.3M89.75,324.6V334.3M90.25,319.3V334.3M90.75,313.3V334.3M91.25,329.4V334.3M91.75,326.9V334.3M92.25,325.8V334.3M92.75,302.2V334.3M93.25,329.4V334.3M93.75,311.9V334.3M94.25,317.0V334.3M94.75,325.7V334.3M95.25,322.6V334.3M95.75,327.4V334.3M96.25,315.4V334.3M96.75,327.1V334.3M97.25,329.6V334.3M97.75,329.6V334.3M98.25,313.2V334.3M98.75,325.1V334.3M99.25,329.7V334.3M99.75,313.0V334.3M100.25,329.7V334.3M100.75,314.0V334.3M101.25,324.3V334.3M101.75,307.3V334.3M102.25,307.1V334.3M102.75,316.9V334.3M103.25,313.6V334.3M103.75,320.6V334.3M104.25,317.5V334.3M104.75,319.9V334.3M105.25,308.7V334.3M105.75,329.2V334.3M106.25,329.1V334.3M106.75,329.0V334.3M107.25,315.2V334.3M107.75,328.8V334.3M108.25,328.7V334.3M108.75,328.7V334.3M109.25,328.6V334.3M109.75,313.8V334.3M110.25,318.1V334.3M110.75,318.1V334.3M111.25,311.8V334.3M111.75,312.7V334.3M112.25,315.3V334.3M112.75,301.7V334.3M113.25,327.9V334.3M113.75,301.8V334.3M114.25,323.7V334.3M114.75,311.3V334.3M115.25,310.3V334.3M115.75,308.9V334.3M116.25,326.6V334.3M116.75,321.8V334.3M117.25,327.5V334.3M117.75,327.5V334.3M118.25,315.4V334.3M118.75,310.7V334.3M119.25,310.8V334.3M119.75,324.9V334.3M120.25,310.1V334.3M120.75,319.4V334.3M121.25,308.3V334.3M121.75,327.4V334.3M122.25,306.7V334.3M122.75,327.3V334.3M123.25,326.8V334.3M123.75,327.3V334.3M124.25,297.3V334.3M124.75,309.8V334.3M125.25,307.8V334.3M125.75,319.6V334.3M126.25,320.9V334.3M126.75,327.2V334.3M127.25,325.9V334.3M127.75,314.8V334.3M128.25,316.4V334.3M128.75,324.4V334.3M129.25,326.6V334.3M129.75,306.0V334.3M130.25,322.3V334.3M130.75,310.1V334.3M131.25,312.4V334.3M131.75,308.4V334.3M132.25,315.3V334.3M132.75,297.4V334.3M133.25,326.0V334.3M133.75,292.4V334.3M134.25,287.5V334.3M134.75,311.9V334.3M135.25,306.2V334.3M135.75,307.9V334.3M136.25,316.3V334.3M136.75,299.4V334.3M137.25,319.7V334.3M137.75,321.6V334.3M138.25,295.7V334.3M138.75,324.8V334.3M139.25,315.4V334.3M139.75,319.0V334.3M140.25,324.5V334.3M140.75,301.2V334.3M141.25,322.7V334.3M141.75,300.6V334.3M142.25,313.8V334.3M142.75,319.2V334.3M143.25,293.5V334.3M143.75,313.8V334.3M144.25,273.2V334.3M144.75,288.4V334.3M145.25,305.9V334.3M145.75,300.9V334.3M146.25,300.3V334.3M146.75,309.0V334.3M147.25,324.3V334.3M147.75,311.2V334.3M148.25,298.0V334.3M148.75,305.4V334.3M149.25,316.0V334.3M149.75,291.7V334.3M150.25,298.6V334.3M150.75,313.0V334.3M151.25,311.8V334.3M151.75,314.4V334.3M152.25,314.0V334.3M152.75,326.3V334.3M153.25,329.0V334.3M153.75,326.0V334.3M154.25,328.2V334.3M154.75,306.7V334.3M155.25,298.3V334.3M155.75,306.8V334.3M156.25,316.5V334.3M156.75,300.6V334.3M157.25,302.7V334.3M157.75,310.0V334.3M158.25,291.9V334.3M158.75,288.9V334.3M159.25,334.3V334.3M159.75,311.8V334.3M160.25,300.0V334.3M160.75,303.9V334.3M161.25,293.2V334.3M161.75,323.8V334.3M162.25,323.2V334.3M162.75,297.7V319.1" fill="none" stroke="#000" stroke-width="1.1"/><path d="M163.0,302.3 163.2,330.0 163.5,334.3 163.8,328.3 164.0,313.1 164.3,333.1 164.5,311.6 164.8,334.3 165.1,306.0 165.3,294.1 165.6,304.6 165.9,334.3 166.2,301.8 166.5,304.1 166.7,318.6 167.0,328.1 167.3,320.9 167.6,237.6 167.9,313.3 168.2,290.6 168.5,321.8 168.8,334.3 169.1,306.5 169.4,291.8 169.7,312.6 170.1,324.1 170.4,334.3 170.7,334.3 171.0,334.3 171.4,326.7 171.7,334.3 172.0,334.3 172.4,332.5 172.7,318.4 173.0,334.3 173.4,334.3 173.8,334.3 174.1,299.3 174.5,303.5 174.8,334.3 175.2,334.3 175.6,334.3 176.0,334.3 176.3,334.3 176.7,320.2 177.1,320.8 177.5,332.9 177.9,334.3 178.3,334.3 178.8,311.8 179.2,334.3 179.6,293.1 180.0,334.3 180.5,322.6 180.9,326.8 181.4,321.0 181.8,334.3 182.3,334.3 182.8,333.7 183.2,296.9 183.7,298.7 184.2,334.3 184.7,322.4" fill="none" stroke="#000" stroke-width="0.85" stroke-linejoin="round"/><path d="M185.5,334.3 185.5,312.5 186.1,284.0 186.5,303.1 186.8,330.2 187.5,312.2 188.0,331.9 188.7,314.0 189.0,321.6 189.3,334.3M189.5,334.3 189.8,313.7 190.0,311.2 190.5,331.6 190.8,330.4 191.0,319.6 191.3,316.0 191.5,319.6 192.0,334.3M193.8,334.3 193.8,314.6 194.4,290.9 194.8,301.4 195.3,334.3M195.5,334.3 195.8,318.4 196.2,312.0 196.5,316.9 197.0,334.3M198.8,334.3 199.0,319.9 199.5,313.8 200.0,323.0 200.5,320.1 201.3,334.3M202.5,334.3 203.0,309.2 203.5,303.5 204.0,312.0 204.5,334.3M206.5,334.3 207.0,325.5 207.3,324.6 207.5,325.5 208.3,334.3M211.3,334.3 211.3,321.7 212.0,298.1 212.4,295.4 212.8,298.9 213.8,334.3M217.8,334.3 218.3,327.0 218.7,325.7 219.0,326.7 219.5,331.3 220.0,328.0 220.8,334.3M222.0,334.3 222.0,328.6 223.0,315.1 223.6,313.1 224.0,314.4 225.5,334.3M227.6,334.0 227.9,331.0 228.1,327.9 228.4,324.9 228.7,322.0 229.0,319.4 229.3,317.1 229.6,314.9 229.9,313.0 230.3,311.2 230.7,309.7 231.2,309.0 231.8,309.1 232.5,309.1 233.1,308.1 233.6,305.1 234.0,299.7 234.4,292.4 234.8,284.1 235.1,275.5 235.5,267.4 235.8,274.1 236.0,281.0 236.3,287.9 236.6,294.3 236.8,300.0 237.0,304.8 237.2,308.9 237.4,312.6 237.6,316.2 237.8,320.0 238.1,319.4 238.5,318.5 238.8,317.7 239.2,317.5 239.6,318.3 240.1,320.3 240.7,323.3 241.4,326.9 242.1,330.6 242.7,334.0M250.2,334.0 250.3,333.5 250.3,333.2 250.3,332.7 250.4,332.2 250.7,331.4 251.1,330.3 251.7,329.0 252.4,327.5 253.0,326.0 253.6,324.6 254.1,323.2 254.5,321.7 254.9,320.3 255.3,318.9 255.9,317.7 256.7,316.5 257.7,315.4 258.7,314.4 259.7,313.6 260.4,313.1 260.9,313.1 261.2,313.4 261.5,313.9 261.7,314.5 262.0,314.9 262.3,315.2 262.6,315.5 263.0,315.8 263.3,316.0 263.7,316.0 264.2,315.8 264.7,315.3 265.3,314.8 265.8,314.4 266.3,314.3 266.6,314.4 266.9,314.7 267.1,315.1 267.4,315.7 267.7,316.6 268.1,317.8 268.6,319.3 269.0,321.0 269.5,322.8 270.0,324.6 270.5,326.4 271.0,328.3 271.4,330.2 271.9,332.1 272.4,334.0M277.7,334.0 278.2,331.9 278.7,329.9 279.2,327.9 279.7,325.7 280.3,323.4 280.9,320.8 281.6,318.0 282.3,315.0 283.0,312.2 283.7,309.7 284.3,307.4 284.9,305.2 285.4,303.2 286.0,301.5 286.6,300.0 287.3,298.8 287.9,298.0 288.7,297.3 289.3,296.9 290.0,296.6 290.6,296.5 291.1,296.6 291.6,296.8 292.2,297.2 292.9,297.7 293.7,298.3 294.5,299.1 295.4,300.0 296.4,300.9 297.4,301.7 298.4,302.4 299.5,303.1 300.7,303.8 301.9,304.5 303.1,305.1 304.4,305.7 305.7,306.3 307.0,306.9 308.5,307.5 310.0,308.0 311.7,308.5 313.5,309.0 315.3,309.5 317.2,309.9 319.1,310.3 320.9,310.6 322.7,310.8 324.5,310.9 326.4,311.1 328.3,311.2 330.3,311.3 332.3,311.4 334.4,311.5 336.5,311.6 338.6,311.7" fill="none" stroke="#000" stroke-width="1.2" stroke-linejoin="round"/></g><text x="55.20" y="243.33" fill="#1010ff" stroke="#1010ff" stroke-width="0.3" font-size="10">White; raw</text><text x="339.70" y="243.43" fill="#b8282c" stroke="#b8282c" stroke-width="0.2" font-size="10" text-anchor="end">P5</text><line x1="480.60" y1="227.83" x2="480.60" y2="332.30" stroke="#f3876b" stroke-width="2.4"/><line x1="350.60" y1="249.65" x2="663.70" y2="249.65" stroke="#bebebe" stroke-width="2.9" stroke-dasharray="8.1 14.44" stroke-linecap="round"/><g clip-path="url(#c6)"><path d="M361.75,306.8V334.3M362.25,286.7V334.3M362.75,273.3V334.3M363.25,312.4V334.3M363.75,288.5V334.3M364.25,290.1V334.3M364.75,315.4V334.3M365.25,300.5V334.3M365.75,322.3V334.3M366.25,322.2V334.3M366.75,319.3V334.3M367.25,291.2V334.3M367.75,318.8V334.3M368.25,291.8V334.3M368.75,267.3V334.3M369.25,281.5V334.3M369.75,319.9V334.3M370.25,303.6V334.3M370.75,271.1V334.3M371.25,321.8V334.3M371.75,295.9V334.3M372.25,279.3V334.3M372.75,304.3V334.3M373.25,310.9V334.3M373.75,263.2V334.3M374.25,321.5V334.3M374.75,310.3V334.3M375.25,308.1V334.3M375.75,291.0V334.3M376.25,292.3V334.3M376.75,285.9V334.3M377.25,285.6V334.3M377.75,303.9V334.3M378.25,282.7V334.3M378.75,321.0V334.3M379.25,306.9V334.3M379.75,294.2V334.3M380.25,301.9V334.3M380.75,276.5V334.3M381.25,320.7V334.3M381.75,308.0V334.3M382.25,310.2V334.3M382.75,282.7V334.3M383.25,270.2V334.3M383.75,320.3V334.3M384.25,293.0V334.3M384.75,267.2V334.3M385.25,275.0V334.3M385.75,320.1V334.3M386.25,320.0V334.3M386.75,280.0V334.3M387.25,275.7V334.3M387.75,277.4V334.3M388.25,271.6V334.3M388.75,284.3V334.3M389.25,319.5V334.3M389.75,282.5V334.3M390.25,314.2V334.3M390.75,280.6V334.3M391.25,304.5V334.3M391.75,306.9V334.3M392.25,278.1V334.3M392.75,265.7V334.3M393.25,305.0V334.3M393.75,298.0V334.3M394.25,292.6V334.3M394.75,287.4V334.3M395.25,321.7V334.3M395.75,304.4V334.3M396.25,322.1V334.3M396.75,323.0V334.3M397.25,287.3V334.3M397.75,306.1V334.3M398.25,324.3V334.3M398.75,315.6V334.3M399.25,293.3V334.3M399.75,325.5V334.3M400.25,294.8V334.3M400.75,326.1V334.3M401.25,318.8V334.3M401.75,326.6V334.3M402.25,303.0V334.3M402.75,327.0V334.3M403.25,306.5V334.3M403.75,316.2V334.3M404.25,323.8V334.3M404.75,307.2V334.3M405.25,307.9V334.3M405.75,318.2V334.3M406.25,318.0V334.3M406.75,328.9V334.3M407.25,311.0V334.3M407.75,311.2V334.3M408.25,316.4V334.3M408.75,329.9V334.3M409.25,329.9V334.3M409.75,314.4V334.3M410.25,307.9V334.3M410.75,304.9V334.3M411.25,301.7V334.3M411.75,311.7V334.3M412.25,310.8V334.3M412.75,320.9V334.3M413.25,321.9V334.3M413.75,322.0V334.3M414.25,308.4V334.3M414.75,321.3V334.3M415.25,321.2V334.3M415.75,314.8V334.3M416.25,305.5V334.3M416.75,326.2V334.3M417.25,311.9V334.3M417.75,298.4V334.3M418.25,299.6V334.3M418.75,321.7V334.3M419.25,288.1V334.3M419.75,321.4V334.3M420.25,324.2V334.3M420.75,318.6V334.3M421.25,323.5V334.3M421.75,297.1V334.3M422.25,291.3V334.3M422.75,291.8V334.3M423.25,309.8V334.3M423.75,319.1V334.3M424.25,309.8V334.3M424.75,303.7V334.3M425.25,296.6V334.3M425.75,294.3V334.3M426.25,303.7V334.3M426.75,281.6V334.3M427.25,275.9V334.3M427.75,277.3V334.3M428.25,269.0V334.3M428.75,264.6V334.3M429.25,288.7V334.3M429.75,317.3V334.3M430.25,317.0V334.3M430.75,290.0V334.3M431.25,314.2V334.3M431.75,260.6V334.3M432.25,256.3V334.3M432.75,309.2V334.3M433.25,278.2V334.3M433.75,277.5V334.3M434.25,265.8V334.3M434.75,264.7V334.3M435.25,287.4V334.3M435.75,317.2V334.3M436.25,285.5V334.3M436.75,290.3V334.3M437.25,311.3V334.3M437.75,319.4V334.3M438.25,308.0V334.3M438.75,320.5V334.3M439.25,292.8V334.3M439.75,310.2V334.3M440.25,282.3V334.3M440.75,307.8V334.3M441.25,290.8V334.3M441.75,323.0V334.3M442.25,314.6V334.3M442.75,292.4V334.3M443.25,299.4V334.3M443.75,324.2V334.3M444.25,293.6V334.3M444.75,306.5V334.3M445.25,321.3V334.3M445.75,297.0V334.3M446.25,326.6V334.3M446.75,326.9V334.3M447.25,304.4V334.3M447.75,315.0V334.3M448.25,323.6V334.3M448.75,321.5V334.3M449.25,328.1V334.3M449.75,328.3V334.3M450.25,328.5V334.3M450.75,318.5V334.3M451.25,322.5V334.3M451.75,313.7V334.3M452.25,329.1V334.3M452.75,300.9V334.3M453.25,303.7V334.3M453.75,309.5V334.3M454.25,317.3V334.3M454.75,317.4V334.3M455.25,326.1V334.3M455.75,325.6V334.3M456.25,310.5V334.3M456.75,300.5V334.3M457.25,281.8V334.3M457.75,302.4V334.3M458.25,299.4V334.3M458.75,322.5V334.3M459.25,309.5V334.3M459.75,298.8V334.3M460.25,284.4V334.3M460.75,281.5V334.3M461.25,273.9V334.3M461.75,320.4V334.3M462.25,281.9V334.3M462.75,285.5V334.3M463.25,276.0V334.3M463.75,317.6V334.3M464.25,321.3V334.3M464.75,265.3V334.3M465.25,282.1V334.3M465.75,295.4V334.3M466.25,309.3V334.3M466.75,322.1V334.3M467.25,322.3V334.3M467.75,307.9V334.3M468.25,288.8V334.3M468.75,322.7V334.3M469.25,287.1V334.3M469.75,286.0V334.3M470.25,334.3V334.3M470.75,295.6V334.3M471.25,292.7V334.3M471.75,334.3V334.3M472.25,287.6V334.3M472.75,272.4V327.4M473.25,257.0V269.4M473.75,269.5V284.9M474.25,289.6V334.3M474.75,294.7V334.3M475.25,334.3V334.3M475.75,327.6V334.3" fill="none" stroke="#000" stroke-width="1.1"/><path d="M475.9,334.3 476.1,329.0 476.3,281.2 476.6,305.4 476.9,334.3 477.1,334.3 477.4,296.8 477.6,328.1 477.9,334.3 478.2,308.0 478.4,297.9 478.7,308.7 479.0,323.9 479.3,334.3 479.6,311.6 479.8,299.8 480.1,334.3 480.4,331.0 480.7,297.7 481.0,289.5 481.3,309.1 481.6,334.3 481.9,334.3 482.2,334.3 482.5,334.3 482.8,334.3 483.2,334.3 483.5,333.9 483.8,322.7 484.1,334.3 484.5,334.3 484.8,297.3 485.1,334.3 485.5,334.3 485.8,334.3 486.1,334.3 486.5,334.3 486.9,334.3 487.2,327.1 487.6,319.5 487.9,254.3 488.3,331.2 488.7,333.9 489.1,334.3 489.4,323.4 489.8,334.3 490.2,321.7 490.6,264.0 491.0,334.3 491.4,334.3 491.9,327.7 492.3,334.3 492.7,334.3 493.1,334.3 493.6,334.3 494.0,314.2 494.5,270.3 494.9,305.7" fill="none" stroke="#000" stroke-width="0.85" stroke-linejoin="round"/><path d="M495.4,334.3 495.7,308.7 495.9,299.8 496.2,296.8 496.4,299.8 497.2,334.3M497.9,334.3 498.4,309.4 498.8,304.5 499.2,310.9 499.7,334.3M500.4,334.3 500.4,306.7 501.2,266.6 501.7,300.6 501.9,334.3M502.9,334.3 503.4,300.0 503.8,293.8 504.2,301.9 504.7,334.3M506.2,334.3 506.2,313.1 506.7,285.5 506.9,283.3 507.4,301.6 507.9,334.3M508.7,334.3 509.2,272.7 509.5,265.6 509.9,281.5 510.4,334.3M511.9,334.3 511.9,325.5 512.5,317.4 513.0,322.8 513.5,334.3M516.5,334.3 516.5,315.6 517.2,279.6 517.6,274.7 518.0,278.5 519.0,331.1 519.2,334.3M520.7,334.3 521.2,314.2 521.5,310.3 521.7,309.0 522.0,310.3 523.0,334.3M524.0,334.3 524.0,330.6 524.5,324.6 524.7,323.8 525.0,324.6 525.7,334.3M532.0,334.3 533.7,266.0 534.7,253.3 535.0,252.6 535.5,254.2 536.7,275.5 538.2,334.3M540.2,334.3 540.2,330.3 540.5,328.0 540.7,327.3 541.0,328.0 541.5,334.3M543.0,334.3 543.0,329.2 543.5,323.2 543.8,322.0 544.2,323.6 545.0,334.3M545.2,334.3 545.7,324.4 546.1,322.3 546.5,323.9 547.2,334.3M553.0,334.3 553.0,330.4 554.2,317.7 554.8,316.2 555.2,316.9 556.2,324.3 557.0,334.3M561.2,334.0 561.2,333.6 561.2,333.3 561.2,332.9 561.3,332.3 561.5,331.1 561.8,329.2 562.3,326.6 562.8,323.8 563.4,321.1 563.8,318.9 564.1,317.2 564.4,315.7 564.7,314.4 565.0,313.4 565.3,312.5 565.7,311.9 566.1,311.6 566.5,311.5 566.9,311.5 567.3,311.3 567.5,304.0 567.7,296.7 568.0,289.3 568.2,282.0 568.4,274.7 568.6,267.4 568.9,260.1 569.1,252.7 569.4,245.4 569.6,238.1 569.9,242.4 570.1,246.6 570.4,250.8 570.7,255.1 571.0,259.5 571.4,264.1 571.7,268.8 572.2,273.6 572.6,278.2 573.0,282.4 573.4,286.2 573.9,289.8 574.3,293.1 574.8,296.2 575.2,299.1 575.6,301.4 576.1,303.2 576.5,304.8 577.0,306.9 577.5,309.8 578.1,313.8 578.6,318.5 579.3,323.7 579.9,328.9 580.5,334.0M586.5,334.0 587.3,331.2 588.1,328.3 588.9,325.5 589.7,322.8 590.5,320.5 591.3,318.5 592.1,316.7 592.9,315.2 593.6,313.9 594.3,312.8 594.8,312.0 595.3,311.5 595.6,311.2 596.1,311.2 596.6,311.3 597.2,311.7 597.9,312.4 598.7,313.2 599.5,314.2 600.4,315.1 601.3,316.1 602.3,317.2 603.3,318.4 604.5,319.5 605.7,320.5 607.0,321.3 608.5,322.0 610.0,322.7 611.6,323.3 613.4,323.8 615.3,324.3 617.4,324.8 619.5,325.1 621.7,325.5 624.0,325.8 626.3,326.0 628.6,326.2 631.0,326.4 633.5,326.5 636.2,326.6 639.2,326.7 642.3,326.8 645.6,326.8 648.9,326.8 652.2,326.9" fill="none" stroke="#000" stroke-width="1.2" stroke-linejoin="round"/></g><text x="368.40" y="243.33" fill="#1010ff" stroke="#1010ff" stroke-width="0.3" font-size="10">White; raw − 1 signal</text><text x="652.80" y="243.43" fill="#b8282c" stroke="#b8282c" stroke-width="0.2" font-size="10" text-anchor="end">P6</text><line x1="167.50" y1="332.30" x2="167.50" y2="436.77" stroke="#f3876b" stroke-width="2.4"/><line x1="37.40" y1="375.60" x2="350.60" y2="375.60" stroke="#bebebe" stroke-width="2.9" stroke-dasharray="8.1 14.44" stroke-linecap="round"/><g clip-path="url(#c7)"><path d="M48.75,413.7V438.8M49.25,410.7V438.8M49.75,419.8V438.8M50.25,419.2V438.8M50.75,418.0V438.8M51.25,406.1V438.8M51.75,410.4V438.8M52.25,422.4V438.8M52.75,414.2V438.8M53.25,398.1V438.8M53.75,404.0V438.8M54.25,425.1V438.8M54.75,388.7V438.8M55.25,405.5V438.8M55.75,410.8V438.8M56.25,422.6V438.8M56.75,428.4V438.8M57.25,418.9V438.8M57.75,415.8V438.8M58.25,408.6V438.8M58.75,409.4V438.8M59.25,404.7V438.8M59.75,417.9V438.8M60.25,404.5V438.8M60.75,406.9V438.8M61.25,401.2V438.8M61.75,408.5V438.8M62.25,415.7V438.8M62.75,394.9V438.8M63.25,416.1V438.8M63.75,408.0V438.8M64.25,409.8V438.8M64.75,419.5V438.8M65.25,413.8V438.8M65.75,415.7V438.8M66.25,418.4V438.8M66.75,424.3V438.8M67.25,402.9V438.8M67.75,403.9V438.8M68.25,424.8V438.8M68.75,419.4V438.8M69.25,394.0V438.8M69.75,410.4V438.8M70.25,422.4V438.8M70.75,408.6V438.8M71.25,394.9V438.8M71.75,412.1V438.8M72.25,392.5V438.8M72.75,401.8V438.8M73.25,428.5V438.8M73.75,421.3V438.8M74.25,391.9V438.8M74.75,416.6V438.8M75.25,414.5V438.8M75.75,400.4V438.8M76.25,408.0V438.8M76.75,413.3V438.8M77.25,402.5V438.8M77.75,412.8V438.8M78.25,415.3V438.8M78.75,416.6V438.8M79.25,418.8V438.8M79.75,423.8V438.8M80.25,406.1V438.8M80.75,428.4V438.8M81.25,409.8V438.8M81.75,429.8V438.8M82.25,424.8V438.8M82.75,403.5V438.8M83.25,403.1V438.8M83.75,403.1V438.8M84.25,401.1V438.8M84.75,411.6V438.8M85.25,408.6V438.8M85.75,430.8V438.8M86.25,413.7V438.8M86.75,420.8V438.8M87.25,422.6V438.8M87.75,423.0V438.8M88.25,418.5V438.8M88.75,424.6V438.8M89.25,406.7V438.8M89.75,423.7V438.8M90.25,417.9V438.8M90.75,410.3V438.8M91.25,431.3V438.8M91.75,426.3V438.8M92.25,425.2V438.8M92.75,397.1V438.8M93.25,431.1V438.8M93.75,409.2V438.8M94.25,415.5V438.8M94.75,425.0V438.8M95.25,421.7V438.8M95.75,426.8V438.8M96.25,413.9V438.8M96.75,426.5V438.8M97.25,431.8V438.8M97.75,431.8V438.8M98.25,411.5V438.8M98.75,424.5V438.8M99.25,430.6V438.8M99.75,411.6V438.8M100.25,431.9V438.8M100.75,412.8V438.8M101.25,423.7V438.8M101.75,405.8V438.8M102.25,406.0V438.8M102.75,416.6V438.8M103.25,413.5V438.8M103.75,420.9V438.8M104.25,418.2V438.8M104.75,420.7V438.8M105.25,409.9V438.8M105.75,431.9V438.8M106.25,430.8V438.8M106.75,431.9V438.8M107.25,417.6V438.8M107.75,431.5V438.8M108.25,431.9V438.8M108.75,431.9V438.8M109.25,431.9V438.8M109.75,417.6V438.8M110.25,421.3V438.8M110.75,421.6V438.8M111.25,416.5V438.8M111.75,417.6V438.8M112.25,420.0V438.8M112.75,409.3V438.8M113.25,431.9V438.8M113.75,409.9V438.8M114.25,427.2V438.8M114.75,417.7V438.8M115.25,417.2V438.8M115.75,416.1V438.8M116.25,429.7V438.8M116.75,426.0V438.8M117.25,431.9V438.8M117.75,431.9V438.8M118.25,421.1V438.8M118.75,417.5V438.8M119.25,417.5V438.8M119.75,428.7V438.8M120.25,417.0V438.8M120.75,424.4V438.8M121.25,415.5V438.8M121.75,431.9V438.8M122.25,414.2V438.8M122.75,431.9V438.8M123.25,430.6V438.8M123.75,431.9V438.8M124.25,406.4V438.8M124.75,416.7V438.8M125.25,415.0V438.8M125.75,424.9V438.8M126.25,426.0V438.8M126.75,431.9V438.8M127.25,430.3V438.8M127.75,421.0V438.8M128.25,422.3V438.8M128.75,429.2V438.8M129.25,431.1V438.8M129.75,412.5V438.8M130.25,427.2V438.8M130.75,416.0V438.8M131.25,418.2V438.8M131.75,414.5V438.8M132.25,420.9V438.8M132.75,404.7V438.8M133.25,431.2V438.8M133.75,400.3V438.8M134.25,396.1V438.8M134.75,417.9V438.8M135.25,412.4V438.8M135.75,414.0V438.8M136.25,422.4V438.8M136.75,406.5V438.8M137.25,425.9V438.8M137.75,428.0V438.8M138.25,403.2V438.8M138.75,430.2V438.8M139.25,421.8V438.8M139.75,425.5V438.8M140.25,429.9V438.8M140.75,407.8V438.8M141.25,429.2V438.8M141.75,407.2V438.8M142.25,420.4V438.8M142.75,425.8V438.8M143.25,401.1V438.8M143.75,420.5V438.8M144.25,384.3V438.8M144.75,397.3V438.8M145.25,413.2V438.8M145.75,408.9V438.8M146.25,408.7V438.8M146.75,416.8V438.8M147.25,430.3V438.8M147.75,419.0V438.8M148.25,408.4V438.8M148.75,414.7V438.8M149.25,423.7V438.8M149.75,404.8V438.8M150.25,410.0V438.8M150.75,421.0V438.8M151.25,418.9V438.8M151.75,420.8V438.8M152.25,419.5V438.8M152.75,428.1V438.8M153.25,431.8V438.8M153.75,428.9V438.8M154.25,432.2V438.8M154.75,411.5V438.8M155.25,404.8V438.8M155.75,412.4V438.8M156.25,423.4V438.8M156.75,408.6V438.8M157.25,411.0V438.8M157.75,418.5V438.8M158.25,401.6V438.8M158.75,398.8V438.8M159.25,438.8V438.8M159.75,420.3V438.8M160.25,406.5V438.8M160.75,410.4V438.8M161.25,399.3V438.8M161.75,435.7V438.8M162.25,435.2V438.8M162.75,404.6V430.5" fill="none" stroke="#000" stroke-width="1.1"/><path d="M163.0,409.4 163.2,438.8 163.5,438.8 163.8,438.8 164.0,424.3 164.3,438.8 164.5,422.9 164.8,438.8 165.1,415.5 165.3,401.5 165.6,412.1 165.9,438.8 166.2,407.7 166.5,409.4 166.7,428.0 167.0,438.8 167.3,425.4 167.6,342.6 167.9,417.5 168.2,396.1 168.5,427.7 168.8,438.8 169.1,408.4 169.4,396.6 169.7,412.9 170.1,427.1 170.4,438.8 170.7,438.8 171.0,438.8 171.4,427.6 171.7,438.8 172.0,438.8 172.4,433.3 172.7,417.2 173.0,438.8 173.4,437.4 173.8,438.8 174.1,402.2 174.5,406.0 174.8,438.8 175.2,438.8 175.6,438.8 176.0,438.8 176.3,438.8 176.7,422.2 177.1,422.8 177.5,435.9 177.9,438.8 178.3,438.8 178.8,414.7 179.2,438.8 179.6,397.5 180.0,438.8 180.5,425.0 180.9,429.5 181.4,423.7 181.8,438.8 182.3,438.8 182.8,436.7 183.2,401.6 183.7,403.3 184.2,438.8 184.7,425.5" fill="none" stroke="#000" stroke-width="0.85" stroke-linejoin="round"/><path d="M185.5,438.8 185.5,421.3 186.1,396.6 186.5,413.1 186.8,436.5 187.5,421.1 188.0,438.1 188.3,436.6 188.5,427.2 188.8,424.0 189.0,427.2 189.3,436.6 190.0,422.1 190.5,438.8M190.8,438.8 191.0,428.0 191.3,425.0 191.5,428.0 191.8,437.1 192.0,438.8M193.3,438.8 193.8,401.3 194.1,395.4 194.5,408.7 195.0,438.8M195.5,438.8 195.8,417.9 196.2,410.3 196.5,416.1 197.0,438.8M199.3,438.8 199.3,432.2 199.9,422.9 200.3,427.0 200.8,438.8M202.3,438.8 203.0,409.8 203.3,408.0 203.5,409.8 204.3,436.3 204.5,438.8M206.5,438.8 207.0,430.1 207.3,429.1 207.5,430.1 208.0,438.2 208.3,438.8M211.0,438.8 211.5,412.4 212.3,404.2 212.8,411.2 213.5,438.8M217.8,438.8 218.3,430.0 218.7,428.6 219.0,429.7 219.8,438.8M221.8,438.8 221.8,433.7 222.8,422.1 223.3,420.6 223.8,422.1 224.8,433.7 225.0,438.8M227.4,439.0 227.6,437.2 227.7,435.5 227.9,433.7 228.1,431.6 228.4,429.1 228.9,425.6 229.5,421.4 230.1,417.1 230.7,413.1 231.3,410.3 231.8,409.2 232.3,409.5 232.7,410.1 233.2,409.9 233.6,408.0 234.0,403.8 234.4,398.1 234.8,391.5 235.1,384.7 235.5,378.3 235.8,383.8 236.1,389.4 236.5,394.9 236.7,400.4 237.0,405.7 237.2,410.9 237.4,415.9 237.5,420.9 237.7,425.9 237.8,430.9 238.3,429.0 238.8,426.8 239.3,424.7 239.8,423.4 240.4,423.4 241.0,425.0 241.7,428.0 242.5,431.7 243.2,435.5 243.9,439.0M246.5,439.0 247.9,434.3 249.5,439.0M252.0,439.0 252.3,438.0 252.7,437.1 253.0,436.1 253.3,435.2 253.6,434.3 253.8,433.6 254.0,433.2 254.1,432.7 254.3,432.0 254.7,430.9 255.2,429.2 255.9,427.1 256.6,424.8 257.4,422.6 258.1,420.6 258.8,418.9 259.5,417.3 260.2,415.9 260.9,414.7 261.6,413.7 262.4,413.0 263.2,412.6 264.0,412.3 264.8,412.2 265.4,412.3 265.9,412.4 266.2,412.6 266.5,413.0 266.8,413.8 267.1,414.9 267.5,416.6 268.0,418.8 268.4,421.2 268.9,423.8 269.4,426.3 269.9,428.8 270.4,431.3 270.9,433.9 271.5,436.4 272.0,439.0M275.5,439.0 276.2,435.9 276.9,432.8 277.7,429.7 278.4,426.8 279.1,424.0 279.8,421.4 280.6,418.9 281.3,416.6 282.0,414.5 282.6,412.6 283.1,411.0 283.6,409.7 284.0,408.6 284.5,407.7 284.9,406.9 285.3,406.3 285.8,405.9 286.2,405.6 286.6,405.5 287.1,405.5 287.6,405.6 288.2,405.9 288.7,406.3 289.3,406.8 290.0,407.4 290.7,408.1 291.4,409.0 292.2,410.0 293.1,411.0 294.0,412.0 295.0,413.1 296.0,414.3 297.2,415.5 298.4,416.7 299.7,417.7 301.1,418.6 302.7,419.5 304.3,420.3 306.0,421.0 307.7,421.7 309.4,422.3 311.2,422.7 313.1,423.1 315.0,423.5 316.9,423.8 318.9,424.1 320.8,424.3 322.9,424.5 325.0,424.7 327.1,424.9 329.3,425.1 331.6,425.2 333.9,425.4 336.3,425.5 338.6,425.7" fill="none" stroke="#000" stroke-width="1.2" stroke-linejoin="round"/></g><text x="55.20" y="347.80" fill="#1010ff" stroke="#1010ff" stroke-width="0.3" font-size="10">MA; raw</text><text x="339.70" y="347.90" fill="#b8282c" stroke="#b8282c" stroke-width="0.2" font-size="10" text-anchor="end">P7</text><line x1="480.60" y1="332.30" x2="480.60" y2="436.77" stroke="#f3876b" stroke-width="2.4"/><line x1="350.60" y1="336.25" x2="663.70" y2="336.25" stroke="#bebebe" stroke-width="2.9" stroke-dasharray="8.1 14.44" stroke-linecap="round"/><g clip-path="url(#c8)"><path d="M361.75,402.9V438.8M362.25,377.4V438.8M362.75,363.8V438.8M363.25,410.7V438.8M363.75,378.7V438.8M364.25,380.1V438.8M364.75,415.5V438.8M365.25,393.9V438.8M365.75,423.8V438.8M366.25,423.8V438.8M366.75,422.3V438.8M367.25,379.9V438.8M367.75,422.1V438.8M368.25,380.0V438.8M368.75,359.7V438.8M369.25,371.3V438.8M369.75,423.7V438.8M370.25,398.5V438.8M370.75,362.8V438.8M371.25,423.6V438.8M371.75,385.3V438.8M372.25,368.9V438.8M372.75,399.9V438.8M373.25,411.6V438.8M373.75,357.0V438.8M374.25,423.5V438.8M374.75,411.2V438.8M375.25,407.2V438.8M375.75,376.6V438.8M376.25,379.8V438.8M376.75,373.1V438.8M377.25,373.0V438.8M377.75,400.9V438.8M378.25,371.3V438.8M378.75,423.4V438.8M379.25,407.0V438.8M379.75,388.1V438.8M380.25,400.3V438.8M380.75,368.0V438.8M381.25,423.5V438.8M381.75,409.5V438.8M382.25,412.6V438.8M382.75,378.7V438.8M383.25,363.3V438.8M383.75,423.6V438.8M384.25,392.8V438.8M384.75,359.9V438.8M385.25,371.6V438.8M385.75,423.7V438.8M386.25,423.7V438.8M386.75,377.7V438.8M387.25,370.8V438.8M387.75,373.0V438.8M388.25,363.3V438.8M388.75,383.0V438.8M389.25,423.8V438.8M389.75,379.2V438.8M390.25,423.2V438.8M390.75,347.8V438.8M391.25,346.4V438.8M391.75,414.3V438.8M392.25,369.2V438.8M392.75,348.6V438.8M393.25,408.4V438.8M393.75,397.4V438.8M394.25,388.1V438.8M394.75,379.0V438.8M395.25,424.8V438.8M395.75,402.3V438.8M396.25,425.0V438.8M396.75,425.1V438.8M397.25,372.7V438.8M397.75,401.5V438.8M398.25,425.2V438.8M398.75,412.1V438.8M399.25,378.4V438.8M399.75,425.9V438.8M400.25,378.0V438.8M400.75,426.1V438.8M401.25,413.3V438.8M401.75,426.4V438.8M402.25,388.9V438.8M402.75,426.6V438.8M403.25,393.0V438.8M403.75,407.2V438.8M404.25,417.2V438.8M404.75,391.4V438.8M405.25,392.0V438.8M405.75,408.5V438.8M406.25,407.9V438.8M406.75,427.8V438.8M407.25,395.3V438.8M407.75,395.1V438.8M408.25,404.6V438.8M408.75,428.6V438.8M409.25,428.8V438.8M409.75,403.5V438.8M410.25,397.9V438.8M410.75,397.6V438.8M411.25,396.9V438.8M411.75,408.2V438.8M412.25,410.4V438.8M412.75,420.0V438.8M413.25,421.6V438.8M413.75,422.9V438.8M414.25,414.1V438.8M414.75,424.1V438.8M415.25,424.3V438.8M415.75,419.9V438.8M416.25,413.2V438.8M416.75,429.2V438.8M417.25,417.7V438.8M417.75,408.6V438.8M418.25,409.1V438.8M418.75,425.2V438.8M419.25,401.9V438.8M419.75,425.8V438.8M420.25,429.3V438.8M420.75,424.5V438.8M421.25,429.0V438.8M421.75,404.9V438.8M422.25,400.4V438.8M422.75,400.6V438.8M423.25,418.2V438.8M423.75,428.2V438.8M424.25,419.5V438.8M424.75,413.1V438.8M425.25,405.0V438.8M425.75,402.4V438.8M426.25,414.9V438.8M426.75,388.5V438.8M427.25,381.9V438.8M427.75,383.5V438.8M428.25,373.8V438.8M428.75,368.0V438.8M429.25,398.2V438.8M429.75,425.4V438.8M430.25,425.1V438.8M430.75,401.0V438.8M431.25,424.4V438.8M431.75,386.2V438.8M432.25,386.2V438.8M432.75,420.4V438.8M433.25,390.0V438.8M433.75,389.4V438.8M434.25,373.1V438.8M434.75,371.5V438.8M435.25,395.1V438.8M435.75,422.4V438.8M436.25,392.1V438.8M436.75,396.3V438.8M437.25,414.9V438.8M437.75,423.5V438.8M438.25,411.1V438.8M438.75,424.0V438.8M439.25,395.1V438.8M439.75,411.0V438.8M440.25,375.3V438.8M440.75,407.4V438.8M441.25,384.5V438.8M441.75,421.9V438.8M442.25,412.5V438.8M442.75,378.5V438.8M443.25,391.5V438.8M443.75,421.9V438.8M444.25,379.5V438.8M444.75,402.5V438.8M445.25,418.9V438.8M445.75,384.2V438.8M446.25,427.8V438.8M446.75,427.7V438.8M447.25,393.9V438.8M447.75,409.1V438.8M448.25,418.2V438.8M448.75,415.3V438.8M449.25,424.1V438.8M449.75,427.4V438.8M450.25,427.3V438.8M450.75,407.2V438.8M451.25,411.6V438.8M451.75,396.3V438.8M452.25,427.1V438.8M452.75,379.4V438.8M453.25,384.4V438.8M453.75,399.3V438.8M454.25,409.7V438.8M454.75,411.9V438.8M455.25,426.8V438.8M455.75,426.8V438.8M456.25,408.1V438.8M456.75,397.8V438.8M457.25,375.8V438.8M457.75,403.9V438.8M458.25,401.0V438.8M458.75,426.7V438.8M459.25,414.5V438.8M459.75,406.9V438.8M460.25,392.7V438.8M460.75,393.1V438.8M461.25,382.8V438.8M461.75,427.2V438.8M462.25,393.8V438.8M462.75,398.8V438.8M463.25,385.2V438.8M463.75,424.4V438.8M464.25,427.7V438.8M464.75,369.5V438.8M465.25,393.3V438.8M465.75,406.9V438.8M466.25,417.4V438.8M466.75,428.1V438.8M467.25,428.2V438.8M467.75,416.2V438.8M468.25,402.1V438.8M468.75,428.5V438.8M469.25,399.3V438.8M469.75,397.8V438.8M470.25,438.8V438.8M470.75,407.3V438.8M471.25,405.2V438.8M471.75,438.8V438.8M472.25,399.3V438.8M472.75,368.7V430.3M473.25,351.4V370.2M473.75,373.9V395.4M474.25,401.9V438.8M474.75,406.9V438.8M475.25,438.8V438.8M475.75,433.5V438.8" fill="none" stroke="#000" stroke-width="1.1"/><path d="M475.9,438.8 476.1,434.8 476.3,387.7 476.6,358.5 476.9,412.4 477.1,438.8 477.4,407.1 477.6,434.6 477.9,438.8 478.2,416.6 478.4,407.2 478.7,417.0 479.0,431.0 479.3,438.8 479.6,419.4 479.8,407.9 480.1,438.8 480.4,437.8 480.7,404.0 481.0,393.8 481.3,416.4 481.6,438.8 481.9,438.8 482.2,438.8 482.5,438.8 482.8,438.8 483.2,438.8 483.5,438.8 483.8,428.9 484.1,438.8 484.5,438.8 484.8,401.9 485.1,438.8 485.5,438.8 485.8,438.8 486.1,438.8 486.5,438.8 486.9,438.8 487.2,432.7 487.6,361.3 487.9,435.0 488.3,438.8 488.7,438.8 489.1,438.8 489.4,428.4 489.8,438.8 490.2,426.5 490.6,367.5 491.0,438.8 491.4,438.8 491.9,432.3 492.3,438.8 492.7,438.8 493.1,438.8 493.6,438.8 494.0,418.3 494.5,374.2 494.9,409.7" fill="none" stroke="#000" stroke-width="0.85" stroke-linejoin="round"/><path d="M495.1,438.8 495.6,414.8 495.8,412.5 496.1,414.8 496.8,438.8M498.1,438.8 498.6,405.6 498.8,402.7 499.1,405.6 499.8,438.8M500.3,438.8 500.3,413.3 500.8,382.1 501.1,379.5 501.6,400.3 502.1,438.8M503.1,438.8 503.3,402.9 503.6,391.4 503.8,387.6 504.1,391.4 504.8,438.8M506.1,438.8 506.3,404.5 506.6,393.5 506.8,389.8 507.1,393.5 507.8,438.8M508.6,438.8 508.6,417.4 509.1,381.5 509.3,377.0 509.6,381.5 510.3,438.8M512.3,438.8 512.3,428.6 512.8,414.8 513.1,412.5 513.5,417.6 514.0,435.2 514.3,438.8M516.0,438.8 516.8,402.4 517.0,398.0 517.3,396.6 517.5,398.0 518.3,419.8 518.8,438.8M520.5,438.8 520.5,431.9 521.0,421.4 521.4,419.3 521.8,422.1 522.5,438.8M525.3,438.8 525.3,435.1 525.9,430.6 526.3,432.6 526.8,438.8M527.5,438.8 527.5,436.2 528.0,433.0 528.8,438.8M533.0,438.8 533.0,425.0 534.3,372.0 534.8,364.8 535.0,364.2 535.5,369.0 536.8,416.0 537.3,438.8M543.0,438.8 543.8,427.3 544.1,426.4 544.5,428.4 545.3,438.8M545.8,438.8 546.0,432.6 546.5,430.0 547.0,433.9 547.3,438.8M548.5,438.8 548.5,435.5 549.0,432.1 549.8,438.8M553.0,438.8 553.0,434.2 554.5,414.0 555.0,411.5 555.4,411.0 555.8,411.7 556.8,419.2 558.0,438.8M559.5,439.0 559.6,436.7 559.6,434.4 559.7,432.1 559.8,429.8 560.0,427.7 560.3,425.7 560.8,423.8 561.2,422.0 561.8,420.2 562.3,418.6 562.9,416.9 563.5,415.1 564.2,413.6 564.8,412.4 565.3,411.8 565.7,412.0 566.0,413.0 566.3,414.2 566.5,415.6 566.8,416.8 567.1,410.3 567.4,403.9 567.7,397.4 568.0,390.8 568.3,383.8 568.7,376.4 569.1,368.7 569.5,360.7 569.9,352.8 570.3,344.9 570.7,348.8 571.0,352.6 571.3,356.5 571.7,360.3 572.1,364.2 572.5,368.2 573.0,372.2 573.5,376.3 573.9,380.2 574.4,383.8 574.8,387.1 575.3,390.2 575.7,393.1 576.2,396.0 576.6,399.0 576.9,408.0 577.2,400.0 578.9,414.1 582.0,439.0M584.0,439.0 585.0,435.0 585.9,430.8 586.9,426.7 587.8,423.1 588.7,420.1 589.5,418.0 590.3,416.6 591.1,415.6 591.8,414.9 592.5,414.1 593.2,413.4 593.8,412.9 594.3,412.5 594.9,412.2 595.5,411.8 596.0,426.9 596.3,412.0 596.3,412.0 596.9,413.0 597.4,413.9 598.0,414.8 598.6,415.8 599.3,417.1 600.1,418.7 600.9,420.6 601.8,422.5 602.8,424.4 603.8,426.1 604.8,427.6 605.9,428.9 607.0,430.1 608.3,431.2 609.8,432.2 611.6,433.0 613.5,433.6 615.6,434.1 617.9,434.5 620.4,434.9 623.1,435.2 626.0,435.4 629.1,435.5 632.3,435.6 635.5,435.7 638.7,435.8 642.0,435.9 645.4,435.9 648.8,435.9 652.1,436.0" fill="none" stroke="#000" stroke-width="1.2" stroke-linejoin="round"/></g><text x="368.40" y="347.80" fill="#1010ff" stroke="#1010ff" stroke-width="0.3" font-size="10">MA; raw − 1 signal</text><text x="652.80" y="347.90" fill="#b8282c" stroke="#b8282c" stroke-width="0.2" font-size="10" text-anchor="end">P8</text><line x1="167.50" y1="436.77" x2="167.50" y2="541.23" stroke="#f3876b" stroke-width="2.4"/><line x1="37.40" y1="479.25" x2="350.60" y2="479.25" stroke="#bebebe" stroke-width="2.9" stroke-dasharray="8.1 14.44" stroke-linecap="round"/><g clip-path="url(#c9)"><path d="M48.75,508.5V543.2M49.25,505.2V543.2M49.75,516.2V543.2M50.25,515.5V543.2M50.75,514.3V543.2M51.25,501.3V543.2M51.75,505.8V543.2M52.25,520.1V543.2M52.75,510.6V543.2M53.25,493.3V543.2M53.75,499.6V543.2M54.25,524.1V543.2M54.75,483.2V543.2M55.25,501.5V543.2M55.75,507.5V543.2M56.25,522.0V543.2M56.75,530.2V543.2M57.25,518.0V543.2M57.75,514.4V543.2M58.25,505.9V543.2M58.75,507.1V543.2M59.25,501.5V543.2M59.75,517.8V543.2M60.25,501.4V543.2M60.75,504.4V543.2M61.25,497.5V543.2M61.75,506.2V543.2M62.25,514.8V543.2M62.75,490.1V543.2M63.25,515.2V543.2M63.75,505.3V543.2M64.25,507.4V543.2M64.75,519.2V543.2M65.25,512.0V543.2M65.75,514.1V543.2M66.25,517.3V543.2M66.75,524.5V543.2M67.25,499.0V543.2M67.75,499.9V543.2M68.25,524.8V543.2M68.75,517.7V543.2M69.25,490.7V543.2M69.75,506.1V543.2M70.25,521.1V543.2M70.75,503.3V543.2M71.25,491.9V543.2M71.75,507.5V543.2M72.25,490.1V543.2M72.75,497.9V543.2M73.25,529.9V543.2M73.75,519.7V543.2M74.25,492.3V543.2M74.75,514.6V543.2M75.25,512.3V543.2M75.75,499.7V543.2M76.25,505.4V543.2M76.75,511.7V543.2M77.25,502.5V543.2M77.75,511.4V543.2M78.25,514.1V543.2M78.75,515.6V543.2M79.25,518.1V543.2M79.75,523.7V543.2M80.25,505.5V543.2M80.75,528.9V543.2M81.25,508.3V543.2M81.75,532.1V543.2M82.25,524.9V543.2M82.75,504.2V543.2M83.25,504.1V543.2M83.75,504.3V543.2M84.25,502.8V543.2M84.75,511.6V543.2M85.25,509.3V543.2M85.75,533.9V543.2M86.25,514.2V543.2M86.75,522.2V543.2M87.25,524.6V543.2M87.75,525.2V543.2M88.25,520.0V543.2M88.75,527.0V543.2M89.25,507.2V543.2M89.75,525.8V543.2M90.25,518.5V543.2M90.75,510.3V543.2M91.25,534.8V543.2M91.75,528.5V543.2M92.25,527.0V543.2M92.75,494.5V543.2M93.25,534.5V543.2M93.75,507.1V543.2M94.25,513.9V543.2M94.75,526.3V543.2M95.25,521.6V543.2M95.75,528.5V543.2M96.25,511.0V543.2M96.75,527.9V543.2M97.25,534.6V543.2M97.75,534.6V543.2M98.25,507.1V543.2M98.75,524.5V543.2M99.25,533.6V543.2M99.75,506.5V543.2M100.25,534.5V543.2M100.75,507.4V543.2M101.25,522.5V543.2M101.75,499.1V543.2M102.25,499.4V543.2M102.75,512.4V543.2M103.25,508.7V543.2M103.75,519.0V543.2M104.25,515.0V543.2M104.75,518.9V543.2M105.25,505.0V543.2M105.75,534.8V543.2M106.25,534.1V543.2M106.75,534.9V543.2M107.25,515.2V543.2M107.75,535.0V543.2M108.25,535.0V543.2M108.75,535.1V543.2M109.25,535.1V543.2M109.75,516.0V543.2M110.25,521.2V543.2M110.75,521.9V543.2M111.25,515.0V543.2M111.75,516.7V543.2M112.25,520.1V543.2M112.75,506.1V543.2M113.25,535.4V543.2M113.75,507.1V543.2M114.25,530.1V543.2M114.75,517.8V543.2M115.25,517.2V543.2M115.75,515.9V543.2M116.25,533.3V543.2M116.75,528.6V543.2M117.25,535.5V543.2M117.75,535.5V543.2M118.25,522.7V543.2M118.75,518.3V543.2M119.25,518.5V543.2M119.75,531.8V543.2M120.25,517.9V543.2M120.75,526.7V543.2M121.25,516.1V543.2M121.75,535.5V543.2M122.25,514.3V543.2M122.75,535.5V543.2M123.25,533.6V543.2M123.75,535.5V543.2M124.25,503.5V543.2M124.75,518.3V543.2M125.25,516.0V543.2M125.75,527.4V543.2M126.25,528.6V543.2M126.75,535.5V543.2M127.25,532.9V543.2M127.75,523.6V543.2M128.25,524.9V543.2M128.75,531.5V543.2M129.25,533.4V543.2M129.75,513.0V543.2M130.25,529.5V543.2M130.75,518.4V543.2M131.25,520.6V543.2M131.75,516.8V543.2M132.25,523.4V543.2M132.75,505.6V543.2M133.25,533.2V543.2M133.75,501.8V543.2M134.25,497.1V543.2M134.75,520.7V543.2M135.25,515.7V543.2M135.75,517.2V543.2M136.25,524.9V543.2M136.75,510.0V543.2M137.25,528.0V543.2M137.75,529.8V543.2M138.25,507.5V543.2M138.75,533.7V543.2M139.25,524.3V543.2M139.75,527.5V543.2M140.25,533.5V543.2M140.75,512.2V543.2M141.25,530.6V543.2M141.75,511.8V543.2M142.25,523.0V543.2M142.75,527.6V543.2M143.25,507.2V543.2M143.75,523.0V543.2M144.25,494.6V543.2M144.75,504.5V543.2M145.25,517.8V543.2M145.75,514.5V543.2M146.25,514.5V543.2M146.75,521.8V543.2M147.25,534.2V543.2M147.75,524.2V543.2M148.25,515.1V543.2M148.75,521.0V543.2M149.25,529.7V543.2M149.75,511.5V543.2M150.25,516.6V543.2M150.75,527.8V543.2M151.25,526.2V543.2M151.75,528.1V543.2M152.25,526.8V543.2M152.75,534.9V543.2M153.25,537.7V543.2M153.75,535.1V543.2M154.25,537.3V543.2M154.75,518.2V543.2M155.25,512.5V543.2M155.75,518.6V543.2M156.25,528.1V543.2M156.75,515.2V543.2M157.25,516.5V543.2M157.75,522.9V543.2M158.25,510.1V543.2M158.75,508.5V543.2M159.25,543.2V543.2M159.75,523.1V543.2M160.25,512.2V543.2M160.75,515.0V543.2M161.25,509.4V543.2M161.75,538.2V543.2M162.25,537.7V543.2M162.75,512.6V533.7" fill="none" stroke="#000" stroke-width="1.1"/><path d="M163.0,515.5 163.2,543.2 163.5,543.2 163.8,543.2 164.0,528.6 164.3,543.2 164.5,527.5 164.8,543.2 165.1,521.4 165.3,511.8 165.6,518.7 165.9,543.2 166.2,515.6 166.5,516.7 166.7,532.4 167.0,542.6 167.3,530.0 167.6,447.7 167.9,523.9 168.2,509.1 168.5,532.6 168.8,543.2 169.1,517.5 169.4,509.7 169.7,521.0 170.1,532.8 170.4,543.2 170.7,543.2 171.0,543.2 171.4,533.9 171.7,543.2 172.0,543.2 172.4,539.1 172.7,526.1 173.0,543.2 173.4,542.9 173.8,543.2 174.1,514.9 174.5,518.0 174.8,543.2 175.2,543.2 175.6,543.2 176.0,543.2 176.3,543.2 176.7,530.3 177.1,530.6 177.5,541.8 177.9,543.2 178.3,543.2 178.8,524.2 179.2,543.2 179.6,510.9 180.0,543.2 180.5,531.6 180.9,535.7 181.4,530.5 181.8,543.2 182.3,543.2 182.8,542.0 183.2,513.6 183.7,514.9 184.2,543.2 184.7,531.2" fill="none" stroke="#000" stroke-width="0.85" stroke-linejoin="round"/><path d="M185.5,543.2 185.5,529.1 186.1,507.4 186.5,521.9 186.8,542.5 187.5,526.1 188.0,543.2M188.3,543.2 188.5,532.1 188.8,529.0 189.0,532.1 189.3,541.4 190.0,524.1 190.5,542.0 190.8,540.9 191.0,531.2 191.3,528.0 191.5,531.2 191.8,540.9 192.0,543.2M193.8,543.2 193.8,530.7 194.4,512.6 194.8,520.6 195.3,543.2M195.5,543.2 196.0,524.8 196.2,524.0 196.5,528.4 197.0,543.2M199.3,543.2 199.3,536.4 199.9,526.9 200.3,531.1 200.8,543.2M202.5,543.2 203.0,521.9 203.5,516.9 204.0,524.5 204.5,543.2M206.8,543.2 207.3,533.8 207.5,533.1 208.0,538.1 208.3,543.2M211.3,543.2 211.3,534.5 212.0,514.8 212.4,512.6 212.8,515.5 213.8,543.2M218.0,543.2 218.8,538.1 219.5,543.2M221.3,543.2 222.3,528.3 222.9,526.3 223.3,527.2 224.3,537.2 224.8,543.2M227.5,543.0 227.8,541.7 228.1,540.6 228.3,539.4 228.6,538.0 229.0,536.0 229.4,533.2 229.9,529.7 230.3,526.0 230.8,522.6 231.3,520.0 231.8,518.8 232.2,518.7 232.7,518.8 233.2,518.2 233.6,516.0 234.0,511.8 234.4,506.2 234.8,499.7 235.1,493.1 235.5,486.9 235.8,492.4 236.0,498.0 236.3,503.6 236.6,508.9 236.8,514.0 237.0,518.6 237.2,523.0 237.4,527.1 237.6,531.2 237.8,535.4 238.2,534.9 238.6,534.2 239.1,533.6 239.5,533.3 239.9,533.7 240.3,534.9 240.7,536.6 241.1,538.8 241.5,541.0 241.9,543.0M251.0,543.0 251.0,542.6 251.0,542.2 251.0,541.8 251.1,541.3 251.3,540.6 251.7,539.8 252.3,538.9 252.9,537.9 253.5,536.7 254.1,535.4 254.6,533.9 255.0,532.2 255.4,530.3 255.8,528.5 256.4,526.9 257.1,525.3 258.0,523.7 258.9,522.2 259.7,520.9 260.4,520.2 260.9,520.1 261.2,520.5 261.5,521.1 261.7,521.8 262.0,522.3 262.3,522.6 262.6,523.0 263.0,523.3 263.3,523.4 263.7,523.4 264.1,523.1 264.6,522.5 265.1,521.8 265.6,521.3 266.0,521.1 266.4,521.2 266.7,521.6 267.0,522.1 267.3,522.9 267.7,524.0 268.1,525.5 268.6,527.4 269.1,529.5 269.5,531.7 270.0,533.7 270.5,535.6 270.9,537.4 271.4,539.3 271.8,541.1 272.3,543.0M277.2,543.0 277.8,540.9 278.4,538.8 279.0,536.7 279.7,534.6 280.3,532.6 281.0,530.5 281.7,528.4 282.4,526.4 283.0,524.5 283.7,522.9 284.3,521.6 284.9,520.5 285.5,519.7 286.0,518.9 286.6,518.3 287.2,517.8 287.7,517.4 288.3,517.1 288.8,516.9 289.4,516.8 289.9,516.8 290.4,516.9 291.0,517.0 291.6,517.3 292.3,517.7 293.2,518.2 294.2,518.9 295.2,519.7 296.3,520.4 297.4,521.1 298.5,521.7 299.6,522.3 300.7,522.9 301.9,523.5 303.1,524.0 304.4,524.5 305.7,525.0 307.0,525.5 308.5,525.9 310.0,526.3 311.7,526.7 313.5,527.1 315.3,527.4 317.2,527.7 319.1,528.0 320.9,528.2 322.7,528.4 324.5,528.5 326.4,528.7 328.3,528.8 330.3,528.9 332.3,529.1 334.4,529.2 336.5,529.3 338.6,529.4" fill="none" stroke="#000" stroke-width="1.2" stroke-linejoin="round"/></g><text x="55.20" y="452.27" fill="#1010ff" stroke="#1010ff" stroke-width="0.3" font-size="10">AR; raw</text><text x="339.70" y="452.37" fill="#b8282c" stroke="#b8282c" stroke-width="0.2" font-size="10" text-anchor="end">P9</text><line x1="480.60" y1="436.77" x2="480.60" y2="541.23" stroke="#f3876b" stroke-width="2.4"/><line x1="350.60" y1="455.05" x2="663.70" y2="455.05" stroke="#bebebe" stroke-width="2.9" stroke-dasharray="8.1 14.44" stroke-linecap="round"/><g clip-path="url(#c10)"><path d="M361.75,505.2V543.2M362.25,470.4V543.2M362.75,470.8V543.2M363.25,508.0V543.2M363.75,496.5V543.2M364.25,497.6V543.2M364.75,509.8V543.2M365.25,502.9V543.2M365.75,518.2V543.2M366.25,514.2V543.2M366.75,512.4V543.2M367.25,498.5V543.2M367.75,512.4V543.2M368.25,498.9V543.2M368.75,486.2V543.2M369.25,493.7V543.2M369.75,513.6V543.2M370.25,505.3V543.2M370.75,489.0V543.2M371.25,516.3V543.2M371.75,501.4V543.2M372.25,493.4V543.2M372.75,506.1V543.2M373.25,509.9V543.2M373.75,486.7V543.2M374.25,518.5V543.2M374.75,510.1V543.2M375.25,508.8V543.2M375.75,499.5V543.2M376.25,500.6V543.2M376.75,497.8V543.2M377.25,497.9V543.2M377.75,507.3V543.2M378.25,496.9V543.2M378.75,521.8V543.2M379.25,509.4V543.2M379.75,503.4V543.2M380.25,507.3V543.2M380.75,494.2V543.2M381.25,519.5V543.2M381.75,510.5V543.2M382.25,511.7V543.2M382.75,499.7V543.2M383.25,490.4V543.2M383.75,517.4V543.2M384.25,505.0V543.2M384.75,487.6V543.2M385.25,494.8V543.2M385.75,521.7V543.2M386.25,527.7V543.2M386.75,497.9V543.2M387.25,493.5V543.2M387.75,494.7V543.2M388.25,488.3V543.2M388.75,500.6V543.2M389.25,474.4V543.2M389.75,450.6V543.2M390.25,519.9V543.2M390.75,495.1V543.2M391.25,514.0V543.2M391.75,516.1V543.2M392.25,490.4V543.2M392.75,477.1V543.2M393.25,513.1V543.2M393.75,506.8V543.2M394.25,501.2V543.2M394.75,495.1V543.2M395.25,529.1V543.2M395.75,509.7V543.2M396.25,525.3V543.2M396.75,529.6V543.2M397.25,491.7V543.2M397.75,509.8V543.2M398.25,525.6V543.2M398.75,517.2V543.2M399.25,496.1V543.2M399.75,530.7V543.2M400.25,496.5V543.2M400.75,531.1V543.2M401.25,519.0V543.2M401.75,531.5V543.2M402.25,503.2V543.2M402.75,531.9V543.2M403.25,505.8V543.2M403.75,515.4V543.2M404.25,523.4V543.2M404.75,505.6V543.2M405.25,506.0V543.2M405.75,516.6V543.2M406.25,515.9V543.2M406.75,533.3V543.2M407.25,506.9V543.2M407.75,506.1V543.2M408.25,510.4V543.2M408.75,533.1V543.2M409.25,533.0V543.2M409.75,507.2V543.2M410.25,502.2V543.2M410.75,500.6V543.2M411.25,498.9V543.2M411.75,506.7V543.2M412.25,506.5V543.2M412.75,518.8V543.2M413.25,520.4V543.2M413.75,521.2V543.2M414.25,505.7V543.2M414.75,521.4V543.2M415.25,521.6V543.2M415.75,514.7V543.2M416.25,504.5V543.2M416.75,530.3V543.2M417.25,512.7V543.2M417.75,501.4V543.2M418.25,502.0V543.2M418.75,524.9V543.2M419.25,497.0V543.2M419.75,525.9V543.2M420.25,531.1V543.2M420.75,524.5V543.2M421.25,530.9V543.2M421.75,500.7V543.2M422.25,497.9V543.2M422.75,498.1V543.2M423.25,517.6V543.2M423.75,530.5V543.2M424.25,519.5V543.2M424.75,512.7V543.2M425.25,504.2V543.2M425.75,502.1V543.2M426.25,515.3V543.2M426.75,493.7V543.2M427.25,490.8V543.2M427.75,492.1V543.2M428.25,487.3V543.2M428.75,485.0V543.2M429.25,501.6V543.2M429.75,529.3V543.2M430.25,529.2V543.2M430.75,505.8V543.2M431.25,529.1V543.2M431.75,495.7V543.2M432.25,495.7V543.2M432.75,526.5V543.2M433.25,497.9V543.2M433.75,497.8V543.2M434.25,491.3V543.2M434.75,490.6V543.2M435.25,503.5V543.2M435.75,528.6V543.2M436.25,499.9V543.2M436.75,504.1V543.2M437.25,522.8V543.2M437.75,529.3V543.2M438.25,518.6V543.2M438.75,529.6V543.2M439.25,501.2V543.2M439.75,517.7V543.2M440.25,492.6V543.2M440.75,513.2V543.2M441.25,496.6V543.2M441.75,528.9V543.2M442.25,518.2V543.2M442.75,494.0V543.2M443.25,499.8V543.2M443.75,528.1V543.2M444.25,494.3V543.2M444.75,504.8V543.2M445.25,523.8V543.2M445.75,496.4V543.2M446.25,532.1V543.2M446.75,532.1V543.2M447.25,500.4V543.2M447.75,512.0V543.2M448.25,522.8V543.2M448.75,519.5V543.2M449.25,529.8V543.2M449.75,531.8V543.2M450.25,531.8V543.2M450.75,510.2V543.2M451.25,515.5V543.2M451.75,500.3V543.2M452.25,531.6V543.2M452.75,489.2V543.2M453.25,492.4V543.2M453.75,501.8V543.2M454.25,513.6V543.2M454.75,516.2V543.2M455.25,531.4V543.2M455.75,531.3V543.2M456.25,512.1V543.2M456.75,500.6V543.2M457.25,484.0V543.2M457.75,507.6V543.2M458.25,504.4V543.2M458.75,531.1V543.2M459.25,518.5V543.2M459.75,509.3V543.2M460.25,495.2V543.2M460.75,494.9V543.2M461.25,488.2V543.2M461.75,531.0V543.2M462.25,496.1V543.2M462.75,499.2V543.2M463.25,491.7V543.2M463.75,528.6V543.2M464.25,531.5V543.2M464.75,484.9V543.2M465.25,497.5V543.2M465.75,508.3V543.2M466.25,520.4V543.2M466.75,531.9V543.2M467.25,532.0V543.2M467.75,518.9V543.2M468.25,502.9V543.2M468.75,532.3V543.2M469.25,502.4V543.2M469.75,501.8V543.2M470.25,543.2V543.2M470.75,508.8V543.2M471.25,506.5V543.2M471.75,543.2V543.2M472.25,503.9V543.2M472.75,505.0V543.2M473.25,491.9V504.0M473.75,496.8V503.5M474.25,505.5V543.2M474.75,508.2V543.2M475.25,543.2V543.2M475.75,532.9V543.2" fill="none" stroke="#000" stroke-width="1.1"/><path d="M475.9,543.2 476.1,534.6 476.3,500.8 476.6,516.2 476.9,543.2 477.1,543.2 477.4,508.8 477.6,535.9 477.9,543.2 478.2,518.4 478.4,509.1 478.7,519.0 479.0,533.4 479.3,543.2 479.6,521.7 479.8,509.9 480.1,543.2 480.4,541.1 480.7,508.9 481.0,502.3 481.3,519.1 481.6,543.2 481.9,543.2 482.2,532.5 482.5,485.8 482.8,533.0 483.2,543.2 483.5,543.2 483.8,532.8 484.1,543.2 484.5,543.2 484.8,509.4 485.1,543.2 485.5,543.2 485.8,543.2 486.1,543.2 486.5,543.2 486.9,538.8 487.2,475.3 487.6,529.4 487.9,543.2 488.3,543.2 488.7,543.2 489.1,543.2 489.4,532.7 489.8,543.2 490.2,531.1 490.6,479.9 491.0,543.2 491.4,543.2 491.9,536.3 492.3,543.2 492.7,543.2 493.1,543.2 493.6,543.2 494.0,524.3 494.5,485.9 494.9,516.8" fill="none" stroke="#000" stroke-width="0.85" stroke-linejoin="round"/><path d="M495.1,543.2 495.6,530.2 495.8,528.7 496.1,530.2 496.6,542.5 496.8,543.2M498.1,543.2 498.6,519.5 498.8,517.3 499.1,519.5 499.8,543.2M500.1,543.2 500.3,517.7 500.6,508.8 500.8,505.8 501.1,508.8 501.8,543.2M503.1,543.2 503.3,513.7 503.6,503.8 503.8,500.5 504.1,503.8 504.8,543.2M506.1,543.2 506.6,511.6 506.9,505.8 507.3,513.4 507.8,543.2M508.8,543.2 508.8,516.6 509.3,484.3 509.6,481.6 510.1,503.1 510.6,543.2M511.8,543.2 512.3,528.9 512.5,528.0 513.0,535.6 513.3,543.2M516.0,543.2 516.5,517.0 517.1,510.4 517.5,514.8 518.3,541.9 518.5,543.2M520.3,543.2 520.8,524.1 521.2,521.1 521.5,523.4 522.3,543.2M523.8,543.2 524.3,531.7 524.7,529.5 525.0,531.2 525.8,543.2M532.5,543.2 533.8,502.2 534.3,496.2 534.6,495.2 535.0,497.4 536.3,526.9 536.8,543.2M545.0,543.2 545.8,529.6 546.4,526.7 546.8,528.0 547.5,537.5 547.8,543.2M552.8,543.2 553.8,535.2 554.3,533.8 554.5,533.7 555.0,534.6 556.3,543.2M561.0,543.0 561.3,540.8 561.6,538.4 561.8,536.2 562.1,534.1 562.3,532.5 562.4,531.6 562.5,531.4 562.5,531.3 562.6,530.9 562.8,529.5 563.1,526.8 563.4,523.1 563.8,519.1 564.2,515.4 564.6,512.7 565.0,511.1 565.5,510.2 566.0,509.8 566.4,509.5 566.9,508.9 567.2,503.8 567.5,498.6 567.8,493.5 568.1,488.5 568.4,483.7 568.7,479.2 569.0,474.9 569.3,470.7 569.6,466.6 569.9,462.4 570.2,465.0 570.5,467.6 570.8,470.2 571.1,473.0 571.4,476.1 571.8,479.8 572.2,483.9 572.6,488.1 573.0,492.2 573.4,495.9 573.8,499.0 574.1,501.8 574.5,504.4 574.8,507.0 575.2,509.6 576.2,511.0 576.3,524.1 576.5,512.0 578.0,514.2 579.8,526.4 582.6,543.0M591.3,543.0 592.1,541.1 592.8,539.1 593.6,537.1 594.3,535.4 595.1,534.0 595.9,533.0 596.7,532.2 597.6,531.7 598.4,531.4 599.3,531.3 600.2,531.4 601.0,531.8 601.9,532.4 602.9,533.1 604.2,533.7 605.7,534.4 607.3,535.2 609.1,536.0 611.1,536.8 613.4,537.4 615.9,537.9 618.6,538.3 621.6,538.6 624.9,538.9 628.6,539.1 632.8,539.3 637.4,539.4 642.4,539.5 647.3,539.6 652.2,539.7" fill="none" stroke="#000" stroke-width="1.2" stroke-linejoin="round"/></g><text x="368.40" y="452.27" fill="#1010ff" stroke="#1010ff" stroke-width="0.3" font-size="10">AR; raw − 1 signal</text><text x="652.80" y="452.37" fill="#b8282c" stroke="#b8282c" stroke-width="0.2" font-size="10" text-anchor="end">P10</text><line x1="167.50" y1="541.23" x2="167.50" y2="645.70" stroke="#f3876b" stroke-width="2.4"/><line x1="37.40" y1="584.35" x2="350.60" y2="584.35" stroke="#bebebe" stroke-width="2.9" stroke-dasharray="8.1 14.44" stroke-linecap="round"/><g clip-path="url(#c11)"><path d="M48.75,622.6V647.7M49.25,619.6V647.7M49.75,628.8V647.7M50.25,628.1V647.7M50.75,627.0V647.7M51.25,615.1V647.7M51.75,619.3V647.7M52.25,631.4V647.7M52.75,623.1V647.7M53.25,607.0V647.7M53.75,612.9V647.7M54.25,634.0V647.7M54.75,597.7V647.7M55.25,614.4V647.7M55.75,619.7V647.7M56.25,631.6V647.7M56.75,637.3V647.7M57.25,627.9V647.7M57.75,624.8V647.7M58.25,617.5V647.7M58.75,618.3V647.7M59.25,613.7V647.7M59.75,626.8V647.7M60.25,613.4V647.7M60.75,615.9V647.7M61.25,610.1V647.7M61.75,617.4V647.7M62.25,624.6V647.7M62.75,603.8V647.7M63.25,625.0V647.7M63.75,616.9V647.7M64.25,618.7V647.7M64.75,628.5V647.7M65.25,622.8V647.7M65.75,624.6V647.7M66.25,627.4V647.7M66.75,633.2V647.7M67.25,611.9V647.7M67.75,612.8V647.7M68.25,633.8V647.7M68.75,628.3V647.7M69.25,602.9V647.7M69.75,619.4V647.7M70.25,631.3V647.7M70.75,617.5V647.7M71.25,603.9V647.7M71.75,621.0V647.7M72.25,601.4V647.7M72.75,610.7V647.7M73.25,637.5V647.7M73.75,630.2V647.7M74.25,600.8V647.7M74.75,625.5V647.7M75.25,623.5V647.7M75.75,609.3V647.7M76.25,616.9V647.7M76.75,622.2V647.7M77.25,611.5V647.7M77.75,621.7V647.7M78.25,624.2V647.7M78.75,625.5V647.7M79.25,627.8V647.7M79.75,632.8V647.7M80.25,615.0V647.7M80.75,637.4V647.7M81.25,618.7V647.7M81.75,638.8V647.7M82.25,633.8V647.7M82.75,612.4V647.7M83.25,612.0V647.7M83.75,612.1V647.7M84.25,610.0V647.7M84.75,620.6V647.7M85.25,617.5V647.7M85.75,639.8V647.7M86.25,622.6V647.7M86.75,629.7V647.7M87.25,631.5V647.7M87.75,631.9V647.7M88.25,627.5V647.7M88.75,633.5V647.7M89.25,615.6V647.7M89.75,632.7V647.7M90.25,626.8V647.7M90.75,619.3V647.7M91.25,640.2V647.7M91.75,635.2V647.7M92.25,634.1V647.7M92.75,606.0V647.7M93.25,640.0V647.7M93.75,618.2V647.7M94.25,624.4V647.7M94.75,634.0V647.7M95.25,630.6V647.7M95.75,635.8V647.7M96.25,622.8V647.7M96.75,635.4V647.7M97.25,640.7V647.7M97.75,640.7V647.7M98.25,620.5V647.7M98.75,633.4V647.7M99.25,639.6V647.7M99.75,620.5V647.7M100.25,640.8V647.7M100.75,621.7V647.7M101.25,632.6V647.7M101.75,614.7V647.7M102.25,614.9V647.7M102.75,625.5V647.7M103.25,622.4V647.7M103.75,629.8V647.7M104.25,627.1V647.7M104.75,629.6V647.7M105.25,618.8V647.7M105.75,640.9V647.7M106.25,639.7V647.7M106.75,640.9V647.7M107.25,626.5V647.7M107.75,640.4V647.7M108.25,640.9V647.7M108.75,640.9V647.7M109.25,640.9V647.7M109.75,626.5V647.7M110.25,630.2V647.7M110.75,630.6V647.7M111.25,625.4V647.7M111.75,626.5V647.7M112.25,628.9V647.7M112.75,618.2V647.7M113.25,640.9V647.7M113.75,618.8V647.7M114.25,636.1V647.7M114.75,626.6V647.7M115.25,626.1V647.7M115.75,625.0V647.7M116.25,638.7V647.7M116.75,634.9V647.7M117.25,640.9V647.7M117.75,640.9V647.7M118.25,630.1V647.7M118.75,626.4V647.7M119.25,626.5V647.7M119.75,637.7V647.7M120.25,625.9V647.7M120.75,633.3V647.7M121.25,624.5V647.7M121.75,640.9V647.7M122.25,623.1V647.7M122.75,640.9V647.7M123.25,639.5V647.7M123.75,640.9V647.7M124.25,615.3V647.7M124.75,625.7V647.7M125.25,624.0V647.7M125.75,633.8V647.7M126.25,634.9V647.7M126.75,640.9V647.7M127.25,639.2V647.7M127.75,629.9V647.7M128.25,631.2V647.7M128.75,638.1V647.7M129.25,640.0V647.7M129.75,621.5V647.7M130.25,636.2V647.7M130.75,624.9V647.7M131.25,627.1V647.7M131.75,623.4V647.7M132.25,629.9V647.7M132.75,613.7V647.7M133.25,640.1V647.7M133.75,609.3V647.7M134.25,605.0V647.7M134.75,626.9V647.7M135.25,621.3V647.7M135.75,623.0V647.7M136.25,631.4V647.7M136.75,615.4V647.7M137.25,634.8V647.7M137.75,636.9V647.7M138.25,612.2V647.7M138.75,639.1V647.7M139.25,630.8V647.7M139.75,634.5V647.7M140.25,638.8V647.7M140.75,616.7V647.7M141.25,638.1V647.7M141.75,616.1V647.7M142.25,629.3V647.7M142.75,634.8V647.7M143.25,610.1V647.7M143.75,629.4V647.7M144.25,593.2V647.7M144.75,606.2V647.7M145.25,622.1V647.7M145.75,617.8V647.7M146.25,617.6V647.7M146.75,625.7V647.7M147.25,639.2V647.7M147.75,627.9V647.7M148.25,617.4V647.7M148.75,623.7V647.7M149.25,632.6V647.7M149.75,613.8V647.7M150.25,618.9V647.7M150.75,630.0V647.7M151.25,627.9V647.7M151.75,629.8V647.7M152.25,628.4V647.7M152.75,637.0V647.7M153.25,640.7V647.7M153.75,637.8V647.7M154.25,641.1V647.7M154.75,620.4V647.7M155.25,613.7V647.7M155.75,621.3V647.7M156.25,632.3V647.7M156.75,617.5V647.7M157.25,619.9V647.7M157.75,627.4V647.7M158.25,610.5V647.7M158.75,607.8V647.7M159.25,647.7V647.7M159.75,629.2V647.7M160.25,615.4V647.7M160.75,619.4V647.7M161.25,608.2V647.7M161.75,644.7V647.7M162.25,644.1V647.7M162.75,613.5V639.4" fill="none" stroke="#000" stroke-width="1.1"/><path d="M163.0,618.3 163.2,647.7 163.5,647.7 163.8,647.7 164.0,633.2 164.3,647.7 164.5,631.8 164.8,647.7 165.1,624.5 165.3,610.4 165.6,621.1 165.9,647.7 166.2,616.6 166.5,618.3 166.7,637.0 167.0,647.7 167.3,634.3 167.6,551.5 167.9,626.4 168.2,605.0 168.5,636.6 168.8,647.7 169.1,617.3 169.4,605.5 169.7,621.9 170.1,636.0 170.4,647.7 170.7,647.7 171.0,647.7 171.4,636.5 171.7,647.7 172.0,647.7 172.4,642.3 172.7,626.1 173.0,647.7 173.4,646.3 173.8,647.7 174.1,611.1 174.5,614.9 174.8,647.7 175.2,647.7 175.6,647.7 176.0,647.7 176.3,647.7 176.7,631.1 177.1,631.7 177.5,644.8 177.9,647.7 178.3,647.7 178.8,623.7 179.2,647.7 179.6,606.5 180.0,647.7 180.5,633.9 180.9,638.4 181.4,632.6 181.8,647.7 182.3,647.7 182.8,645.6 183.2,610.5 183.7,612.3 184.2,647.7 184.7,634.5" fill="none" stroke="#000" stroke-width="0.85" stroke-linejoin="round"/><path d="M185.5,647.7 185.5,630.2 186.1,605.5 186.5,622.0 186.8,645.5 187.5,630.1 188.0,647.1 188.3,645.6 188.5,636.1 188.8,632.9 189.0,636.1 189.3,645.6 190.0,631.1 190.5,647.7M190.8,647.7 191.0,637.0 191.3,633.9 191.5,637.0 191.8,646.1 192.0,647.7M193.3,647.7 193.8,610.3 194.1,604.3 194.5,617.7 195.0,647.7M195.5,647.7 195.8,626.8 196.2,619.2 196.5,625.1 197.0,647.7M199.3,647.7 199.3,641.1 199.9,631.8 200.3,636.0 200.8,647.7M202.3,647.7 203.0,618.7 203.3,616.9 203.5,618.7 204.3,645.2 204.5,647.7M206.5,647.7 207.0,639.0 207.3,638.0 207.5,639.0 208.0,647.2 208.3,647.7M211.0,647.7 211.5,621.3 212.3,613.1 212.8,620.1 213.5,647.7M217.8,647.7 218.3,639.0 218.7,637.5 219.0,638.6 219.8,647.7M221.8,647.7 221.8,642.6 222.8,631.0 223.3,629.5 223.8,631.0 224.8,642.6 225.0,647.7M227.4,647.9 227.6,646.1 227.7,644.4 227.9,642.6 228.1,640.6 228.4,638.0 228.9,634.6 229.5,630.4 230.1,626.0 230.7,622.1 231.3,619.2 231.8,618.2 232.3,618.4 232.7,619.0 233.2,618.9 233.6,616.9 234.0,612.7 234.4,607.0 234.8,600.4 235.1,593.6 235.5,587.2 235.8,592.7 236.1,598.3 236.5,603.8 236.7,609.3 237.0,614.6 237.2,619.8 237.4,624.9 237.5,629.9 237.7,634.8 237.8,639.8 238.3,638.0 238.8,635.7 239.3,633.7 239.8,632.4 240.4,632.3 241.0,634.0 241.7,636.9 242.5,640.6 243.2,644.4 243.9,647.9M246.5,647.9 247.9,643.2 249.5,647.9M252.0,647.9 252.3,647.0 252.7,646.0 253.0,645.0 253.3,644.1 253.6,643.2 253.8,642.6 254.0,642.1 254.1,641.6 254.3,640.9 254.7,639.8 255.2,638.2 255.9,636.0 256.6,633.7 257.4,631.5 258.1,629.5 258.8,627.8 259.5,626.3 260.2,624.8 260.9,623.6 261.6,622.6 262.4,621.9 263.2,621.5 264.0,621.2 264.8,621.2 265.4,621.2 265.9,621.4 266.2,621.6 266.5,622.0 266.8,622.7 267.1,623.8 267.5,625.5 268.0,627.7 268.4,630.2 268.9,632.7 269.4,635.2 269.9,637.7 270.4,640.2 270.9,642.8 271.5,645.4 272.0,647.9M275.5,647.9 276.2,644.9 276.9,641.8 277.7,638.7 278.4,635.7 279.1,632.9 279.8,630.3 280.6,627.8 281.3,625.5 282.0,623.4 282.6,621.5 283.1,620.0 283.6,618.6 284.0,617.5 284.5,616.6 284.9,615.8 285.3,615.2 285.8,614.8 286.2,614.5 286.6,614.4 287.1,614.4 287.6,614.6 288.2,614.8 288.7,615.2 289.3,615.7 290.0,616.3 290.7,617.1 291.4,617.9 292.2,618.9 293.1,619.9 294.0,620.9 295.0,622.0 296.0,623.2 297.2,624.4 298.4,625.6 299.7,626.6 301.1,627.6 302.7,628.4 304.3,629.3 306.0,630.0 307.7,630.6 309.4,631.2 311.2,631.7 313.1,632.1 315.0,632.4 316.9,632.7 318.9,633.0 320.8,633.3 322.9,633.5 325.0,633.6 327.1,633.8 329.3,634.0 331.6,634.2 333.9,634.3 336.3,634.5 338.6,634.6" fill="none" stroke="#000" stroke-width="1.2" stroke-linejoin="round"/></g><text x="55.20" y="556.73" fill="#1010ff" stroke="#1010ff" stroke-width="0.3" font-size="10">MCMC; raw</text><text x="339.70" y="556.83" fill="#b8282c" stroke="#b8282c" stroke-width="0.2" font-size="10" text-anchor="end">P11</text><line x1="480.60" y1="541.23" x2="480.60" y2="645.70" stroke="#f3876b" stroke-width="2.4"/><line x1="350.60" y1="549.40" x2="663.70" y2="549.40" stroke="#bebebe" stroke-width="2.9" stroke-dasharray="8.1 14.44" stroke-linecap="round"/><g clip-path="url(#c12)"><path d="M361.75,616.8V647.7M362.25,597.2V647.7M362.75,576.3V647.7M363.25,620.7V647.7M363.75,599.0V647.7M364.25,601.1V647.7M364.75,622.9V647.7M365.25,610.0V647.7M365.75,633.3V647.7M366.25,630.1V647.7M366.75,626.4V647.7M367.25,600.2V647.7M367.75,626.0V647.7M368.25,600.0V647.7M368.75,572.2V647.7M369.25,587.9V647.7M369.75,627.3V647.7M370.25,610.3V647.7M370.75,576.6V647.7M371.25,632.0V647.7M371.75,601.1V647.7M372.25,584.4V647.7M372.75,610.3V647.7M373.25,617.6V647.7M373.75,569.5V647.7M374.25,631.6V647.7M374.75,616.8V647.7M375.25,614.0V647.7M375.75,593.1V647.7M376.25,594.9V647.7M376.75,588.5V647.7M377.25,588.3V647.7M377.75,608.8V647.7M378.25,586.0V647.7M378.75,631.0V647.7M379.25,613.1V647.7M379.75,599.7V647.7M380.25,608.5V647.7M380.75,581.5V647.7M381.25,631.3V647.7M381.75,615.5V647.7M382.25,617.9V647.7M382.75,592.2V647.7M383.25,575.7V647.7M383.75,629.3V647.7M384.25,603.1V647.7M384.75,571.7V647.7M385.25,583.9V647.7M385.75,631.9V647.7M386.25,632.0V647.7M386.75,589.6V647.7M387.25,582.5V647.7M387.75,584.6V647.7M388.25,574.7V647.7M388.75,594.3V647.7M389.25,632.4V647.7M389.75,590.2V647.7M390.25,630.1V647.7M390.75,586.2V647.7M391.25,618.9V647.7M391.75,622.6V647.7M392.25,580.0V647.7M392.75,560.5V647.7M393.25,617.3V647.7M393.75,606.8V647.7M394.25,598.1V647.7M394.75,589.2V647.7M395.25,633.8V647.7M395.75,611.7V647.7M396.25,634.1V647.7M396.75,634.2V647.7M397.25,582.6V647.7M397.75,611.1V647.7M398.25,634.3V647.7M398.75,621.6V647.7M399.25,588.1V647.7M399.75,635.1V647.7M400.25,587.4V647.7M400.75,635.4V647.7M401.25,623.0V647.7M401.75,635.7V647.7M402.25,598.4V647.7M402.75,636.0V647.7M403.25,602.7V647.7M403.75,617.3V647.7M404.25,627.3V647.7M404.75,600.7V647.7M405.25,601.3V647.7M405.75,618.5V647.7M406.25,617.8V647.7M406.75,637.2V647.7M407.25,604.7V647.7M407.75,604.6V647.7M408.25,614.3V647.7M408.75,637.9V647.7M409.25,638.0V647.7M409.75,613.1V647.7M410.25,607.8V647.7M410.75,607.8V647.7M411.25,607.4V647.7M411.75,617.6V647.7M412.25,619.6V647.7M412.75,629.2V647.7M413.25,630.7V647.7M413.75,631.9V647.7M414.25,623.0V647.7M414.75,633.0V647.7M415.25,633.2V647.7M415.75,628.8V647.7M416.25,622.2V647.7M416.75,638.2V647.7M417.25,626.8V647.7M417.75,618.7V647.7M418.25,618.9V647.7M418.75,634.5V647.7M419.25,613.4V647.7M419.75,635.0V647.7M420.25,638.5V647.7M420.75,633.9V647.7M421.25,638.2V647.7M421.75,615.1V647.7M422.25,611.6V647.7M422.75,611.7V647.7M423.25,628.0V647.7M423.75,637.5V647.7M424.25,629.3V647.7M424.75,623.3V647.7M425.25,615.7V647.7M425.75,613.3V647.7M426.25,625.1V647.7M426.75,601.5V647.7M427.25,596.1V647.7M427.75,597.2V647.7M428.25,589.5V647.7M428.75,584.8V647.7M429.25,608.6V647.7M429.75,634.7V647.7M430.25,634.3V647.7M430.75,610.7V647.7M431.25,633.6V647.7M431.75,597.5V647.7M432.25,597.4V647.7M432.75,629.3V647.7M433.25,599.5V647.7M433.75,598.9V647.7M434.25,587.0V647.7M434.75,585.9V647.7M435.25,603.5V647.7M435.75,631.2V647.7M436.25,600.1V647.7M436.75,604.3V647.7M437.25,623.3V647.7M437.75,632.0V647.7M438.25,619.1V647.7M438.75,632.4V647.7M439.25,602.0V647.7M439.75,618.5V647.7M440.25,587.9V647.7M440.75,614.3V647.7M441.25,594.4V647.7M441.75,629.6V647.7M442.25,619.3V647.7M442.75,589.9V647.7M443.25,599.3V647.7M443.75,629.1V647.7M444.25,590.4V647.7M444.75,607.2V647.7M445.25,625.2V647.7M445.75,593.6V647.7M446.25,635.4V647.7M446.75,635.4V647.7M447.25,601.4V647.7M447.75,614.9V647.7M448.25,625.5V647.7M448.75,622.4V647.7M449.25,632.1V647.7M449.75,635.8V647.7M450.25,635.8V647.7M450.75,614.7V647.7M451.25,619.8V647.7M451.75,605.3V647.7M452.25,636.0V647.7M452.75,594.2V647.7M453.25,597.7V647.7M453.75,608.3V647.7M454.25,619.2V647.7M454.75,621.9V647.7M455.25,636.4V647.7M455.75,636.4V647.7M456.25,618.8V647.7M456.75,608.3V647.7M457.25,594.2V647.7M457.75,615.3V647.7M458.25,612.4V647.7M458.75,636.7V647.7M459.25,625.8V647.7M459.75,618.0V647.7M460.25,605.1V647.7M460.75,605.1V647.7M461.25,596.8V647.7M461.75,637.0V647.7M462.25,605.2V647.7M462.75,609.4V647.7M463.25,597.7V647.7M463.75,634.9V647.7M464.25,637.2V647.7M464.75,583.1V647.7M465.25,604.0V647.7M465.75,616.8V647.7M466.25,627.3V647.7M466.75,637.5V647.7M467.25,637.5V647.7M467.75,625.9V647.7M468.25,611.5V647.7M468.75,637.7V647.7M469.25,608.6V647.7M469.75,607.1V647.7M470.25,647.7V647.7M470.75,616.2V647.7M471.25,614.1V647.7M471.75,647.7V647.7M472.25,608.1V647.7M472.75,577.6V639.0M473.25,560.2V581.3M473.75,584.9V605.2M474.25,611.2V647.7M474.75,616.0V647.7M475.25,647.7V647.7M475.75,641.6V647.7" fill="none" stroke="#000" stroke-width="1.1"/><path d="M475.9,647.7 476.1,642.8 476.3,600.6 476.6,571.0 476.9,622.6 477.1,647.7 477.4,616.6 477.6,642.5 477.9,647.7 478.2,625.7 478.4,617.0 478.7,626.1 479.0,639.1 479.3,647.7 479.6,628.4 479.8,617.9 480.1,647.7 480.4,645.6 480.7,616.2 481.0,609.6 481.3,625.9 481.6,647.7 481.9,647.7 482.2,647.7 482.5,647.7 482.8,647.7 483.2,647.7 483.5,647.7 483.8,638.0 484.1,647.7 484.5,647.7 484.8,617.1 485.1,647.7 485.5,647.7 485.8,647.7 486.1,647.7 486.5,647.7 486.9,647.7 487.2,641.7 487.6,568.8 487.9,643.8 488.3,647.7 488.7,647.7 489.1,647.7 489.4,637.9 489.8,647.7 490.2,636.5 490.6,590.5 491.0,647.7 491.4,647.7 491.9,641.3 492.3,647.7 492.7,647.7 493.1,647.7 493.6,647.7 494.0,630.5 494.5,595.8 494.9,623.8" fill="none" stroke="#000" stroke-width="0.85" stroke-linejoin="round"/><path d="M495.1,647.7 495.6,627.1 495.8,625.1 496.1,627.1 496.8,647.7M498.1,647.7 498.6,626.4 498.8,624.3 499.1,626.4 499.8,647.7M500.3,647.7 500.8,598.2 501.1,592.3 501.6,605.5 502.1,647.7M503.1,647.7 503.3,611.5 503.6,600.0 503.8,596.1 504.1,600.0 504.8,647.7M506.1,647.7 506.6,614.4 506.9,608.3 507.3,616.2 507.8,647.7M508.8,647.7 508.8,622.8 509.3,592.0 509.6,589.5 510.1,610.0 510.6,647.7M512.5,647.7 512.5,639.2 513.0,628.7 513.3,627.4 513.5,628.7 514.3,647.7M516.3,647.7 517.0,614.2 517.6,607.5 518.0,612.0 519.0,647.7M520.8,647.7 521.3,631.6 521.7,628.9 522.0,631.0 522.8,647.7M532.8,647.7 534.3,582.2 534.8,575.8 535.0,575.2 535.5,579.5 536.8,621.6 537.3,647.7M543.3,647.7 543.3,643.8 543.8,639.1 544.1,638.3 544.5,640.0 545.3,647.7M546.0,647.7 546.0,644.2 546.5,642.0 547.3,647.7M553.3,647.7 554.8,627.3 555.8,624.3 556.3,625.6 557.8,640.7 558.3,647.7M559.5,648.0 559.6,646.6 559.7,645.3 559.7,643.9 559.8,642.5 560.0,641.1 560.2,639.6 560.5,638.1 560.8,636.6 561.1,635.0 561.5,633.5 561.9,631.9 562.4,630.2 562.9,628.6 563.4,627.1 563.8,625.8 564.1,624.8 564.5,623.8 564.7,623.1 565.0,622.7 565.3,622.5 565.6,622.7 565.9,623.3 566.3,624.2 566.6,625.0 566.9,625.8 567.2,618.2 567.5,610.5 567.8,602.8 568.1,595.2 568.4,587.7 568.7,580.3 569.1,573.0 569.5,565.7 569.8,558.4 570.2,551.1 570.6,555.4 571.0,559.6 571.4,563.8 571.8,568.1 572.2,572.5 572.5,577.1 572.8,582.0 573.0,586.8 573.3,591.4 573.7,595.4 574.2,598.7 574.9,601.5 575.5,604.1 576.2,606.5 576.8,609.1 577.3,611.7 577.7,614.0 578.2,616.5 578.6,619.3 579.1,622.8 579.7,627.1 580.2,632.1 580.9,637.4 581.5,642.8 582.1,648.0M583.6,648.0 584.4,644.7 585.1,641.3 585.9,637.9 586.6,634.8 587.4,632.0 588.2,629.6 589.0,627.5 589.8,625.7 590.5,624.1 591.3,622.8 592.0,621.8 592.7,621.1 593.4,620.6 594.1,620.5 594.8,620.5 595.6,620.8 596.3,621.2 597.1,622.0 598.0,623.0 598.9,624.3 599.8,626.1 600.8,628.3 601.9,630.7 603.0,633.0 604.2,635.0 605.5,636.6 606.9,638.0 608.3,639.2 609.9,640.3 611.8,641.1 613.7,641.7 615.6,642.0 617.7,642.1 620.5,642.2 624.0,642.3 628.6,642.4 634.1,642.5 640.2,642.5 646.3,642.6 652.2,642.6" fill="none" stroke="#000" stroke-width="1.2" stroke-linejoin="round"/></g><text x="368.40" y="556.73" fill="#1010ff" stroke="#1010ff" stroke-width="0.3" font-size="10">MCMC; raw − 1 signal</text><text x="652.80" y="556.83" fill="#b8282c" stroke="#b8282c" stroke-width="0.2" font-size="10" text-anchor="end">P12</text><path d="M37.40 18.90H350.60V123.37H37.40ZM38.82 18.90v3.20M42.56 18.90v3.20M45.90 18.90v6.20M67.91 18.90v3.20M80.78 18.90v3.20M89.91 18.90v3.20M96.99 18.90v3.20M102.78 18.90v3.20M107.68 18.90v3.20M111.92 18.90v3.20M115.66 18.90v3.20M119.00 18.90v6.20M141.01 18.90v3.20M153.88 18.90v3.20M163.01 18.90v3.20M170.09 18.90v3.20M175.88 18.90v3.20M180.78 18.90v3.20M185.02 18.90v3.20M188.76 18.90v3.20M192.10 18.90v6.20M214.11 18.90v3.20M226.98 18.90v3.20M236.11 18.90v3.20M243.19 18.90v3.20M248.98 18.90v3.20M253.88 18.90v3.20M258.12 18.90v3.20M261.86 18.90v3.20M265.20 18.90v6.20M287.21 18.90v3.20M300.08 18.90v3.20M309.21 18.90v3.20M316.29 18.90v3.20M322.08 18.90v3.20M326.98 18.90v3.20M331.22 18.90v3.20M334.96 18.90v3.20M338.30 18.90v6.20M37.40 117.64h6.00M350.60 117.64h-6.00M37.40 111.25h3.30M350.60 111.25h-3.30M37.40 104.87h3.30M350.60 104.87h-3.30M37.40 98.48h3.30M350.60 98.48h-3.30M37.40 92.10h6.00M350.60 92.10h-6.00M37.40 85.71h3.30M350.60 85.71h-3.30M37.40 79.33h3.30M350.60 79.33h-3.30M37.40 72.94h3.30M350.60 72.94h-3.30M37.40 66.56h6.00M350.60 66.56h-6.00M37.40 60.17h3.30M350.60 60.17h-3.30M37.40 53.79h3.30M350.60 53.79h-3.30M37.40 47.40h3.30M350.60 47.40h-3.30M37.40 41.02h6.00M350.60 41.02h-6.00M37.40 34.63h3.30M350.60 34.63h-3.30M37.40 28.25h3.30M350.60 28.25h-3.30M37.40 21.86h3.30M350.60 21.86h-3.30M350.60 18.90H663.70V123.37H350.60ZM351.92 18.90v3.20M355.66 18.90v3.20M359.00 18.90v6.20M381.01 18.90v3.20M393.88 18.90v3.20M403.01 18.90v3.20M410.09 18.90v3.20M415.88 18.90v3.20M420.78 18.90v3.20M425.02 18.90v3.20M428.76 18.90v3.20M432.10 18.90v6.20M454.11 18.90v3.20M466.98 18.90v3.20M476.11 18.90v3.20M483.19 18.90v3.20M488.98 18.90v3.20M493.88 18.90v3.20M498.12 18.90v3.20M501.86 18.90v3.20M505.20 18.90v6.20M527.21 18.90v3.20M540.08 18.90v3.20M549.21 18.90v3.20M556.29 18.90v3.20M562.08 18.90v3.20M566.98 18.90v3.20M571.22 18.90v3.20M574.96 18.90v3.20M578.30 18.90v6.20M600.31 18.90v3.20M613.18 18.90v3.20M622.31 18.90v3.20M629.39 18.90v3.20M635.18 18.90v3.20M640.08 18.90v3.20M644.32 18.90v3.20M648.06 18.90v3.20M651.40 18.90v6.20M350.60 118.28h3.30M663.70 118.28h-3.30M350.60 112.25h3.30M663.70 112.25h-3.30M350.60 106.23h3.30M663.70 106.23h-3.30M350.60 100.20h6.00M663.70 100.20h-6.00M350.60 94.17h3.30M663.70 94.17h-3.30M350.60 88.15h3.30M663.70 88.15h-3.30M350.60 82.12h3.30M663.70 82.12h-3.30M350.60 76.10h6.00M663.70 76.10h-6.00M350.60 70.08h3.30M663.70 70.08h-3.30M350.60 64.05h3.30M663.70 64.05h-3.30M350.60 58.02h3.30M663.70 58.02h-3.30M350.60 52.00h6.00M663.70 52.00h-6.00M350.60 45.98h3.30M663.70 45.98h-3.30M350.60 39.95h3.30M663.70 39.95h-3.30M350.60 33.92h3.30M663.70 33.92h-3.30M350.60 27.90h6.00M663.70 27.90h-6.00M350.60 21.88h3.30M663.70 21.88h-3.30M37.40 123.37H350.60V227.83H37.40ZM38.82 123.37v3.20M42.56 123.37v3.20M45.90 123.37v6.20M67.91 123.37v3.20M80.78 123.37v3.20M89.91 123.37v3.20M96.99 123.37v3.20M102.78 123.37v3.20M107.68 123.37v3.20M111.92 123.37v3.20M115.66 123.37v3.20M119.00 123.37v6.20M141.01 123.37v3.20M153.88 123.37v3.20M163.01 123.37v3.20M170.09 123.37v3.20M175.88 123.37v3.20M180.78 123.37v3.20M185.02 123.37v3.20M188.76 123.37v3.20M192.10 123.37v6.20M214.11 123.37v3.20M226.98 123.37v3.20M236.11 123.37v3.20M243.19 123.37v3.20M248.98 123.37v3.20M253.88 123.37v3.20M258.12 123.37v3.20M261.86 123.37v3.20M265.20 123.37v6.20M287.21 123.37v3.20M300.08 123.37v3.20M309.21 123.37v3.20M316.29 123.37v3.20M322.08 123.37v3.20M326.98 123.37v3.20M331.22 123.37v3.20M334.96 123.37v3.20M338.30 123.37v6.20M37.40 222.10h3.30M350.60 222.10h-3.30M37.40 215.80h6.00M350.60 215.80h-6.00M37.40 209.50h3.30M350.60 209.50h-3.30M37.40 203.20h3.30M350.60 203.20h-3.30M37.40 196.90h3.30M350.60 196.90h-3.30M37.40 190.60h6.00M350.60 190.60h-6.00M37.40 184.30h3.30M350.60 184.30h-3.30M37.40 178.00h3.30M350.60 178.00h-3.30M37.40 171.70h3.30M350.60 171.70h-3.30M37.40 165.40h6.00M350.60 165.40h-6.00M37.40 159.10h3.30M350.60 159.10h-3.30M37.40 152.80h3.30M350.60 152.80h-3.30M37.40 146.50h3.30M350.60 146.50h-3.30M37.40 140.20h6.00M350.60 140.20h-6.00M37.40 133.90h3.30M350.60 133.90h-3.30M37.40 127.60h3.30M350.60 127.60h-3.30M350.60 123.37H663.70V227.83H350.60ZM351.92 123.37v3.20M355.66 123.37v3.20M359.00 123.37v6.20M381.01 123.37v3.20M393.88 123.37v3.20M403.01 123.37v3.20M410.09 123.37v3.20M415.88 123.37v3.20M420.78 123.37v3.20M425.02 123.37v3.20M428.76 123.37v3.20M432.10 123.37v6.20M454.11 123.37v3.20M466.98 123.37v3.20M476.11 123.37v3.20M483.19 123.37v3.20M488.98 123.37v3.20M493.88 123.37v3.20M498.12 123.37v3.20M501.86 123.37v3.20M505.20 123.37v6.20M527.21 123.37v3.20M540.08 123.37v3.20M549.21 123.37v3.20M556.29 123.37v3.20M562.08 123.37v3.20M566.98 123.37v3.20M571.22 123.37v3.20M574.96 123.37v3.20M578.30 123.37v6.20M600.31 123.37v3.20M613.18 123.37v3.20M622.31 123.37v3.20M629.39 123.37v3.20M635.18 123.37v3.20M640.08 123.37v3.20M644.32 123.37v3.20M648.06 123.37v3.20M651.40 123.37v6.20M350.60 223.65h3.30M663.70 223.65h-3.30M350.60 219.30h3.30M663.70 219.30h-3.30M350.60 214.95h3.30M663.70 214.95h-3.30M350.60 210.60h3.30M663.70 210.60h-3.30M350.60 206.25h6.00M663.70 206.25h-6.00M350.60 201.90h3.30M663.70 201.90h-3.30M350.60 197.55h3.30M663.70 197.55h-3.30M350.60 193.20h3.30M663.70 193.20h-3.30M350.60 188.85h3.30M663.70 188.85h-3.30M350.60 184.50h6.00M663.70 184.50h-6.00M350.60 180.15h3.30M663.70 180.15h-3.30M350.60 175.80h3.30M663.70 175.80h-3.30M350.60 171.45h3.30M663.70 171.45h-3.30M350.60 167.10h3.30M663.70 167.10h-3.30M350.60 162.75h6.00M663.70 162.75h-6.00M350.60 158.40h3.30M663.70 158.40h-3.30M350.60 154.05h3.30M663.70 154.05h-3.30M350.60 149.70h3.30M663.70 149.70h-3.30M350.60 145.35h3.30M663.70 145.35h-3.30M350.60 141.00h6.00M663.70 141.00h-6.00M350.60 136.65h3.30M663.70 136.65h-3.30M350.60 132.30h3.30M663.70 132.30h-3.30M350.60 127.95h3.30M663.70 127.95h-3.30M37.40 227.83H350.60V332.30H37.40ZM38.82 227.83v3.20M42.56 227.83v3.20M45.90 227.83v6.20M67.91 227.83v3.20M80.78 227.83v3.20M89.91 227.83v3.20M96.99 227.83v3.20M102.78 227.83v3.20M107.68 227.83v3.20M111.92 227.83v3.20M115.66 227.83v3.20M119.00 227.83v6.20M141.01 227.83v3.20M153.88 227.83v3.20M163.01 227.83v3.20M170.09 227.83v3.20M175.88 227.83v3.20M180.78 227.83v3.20M185.02 227.83v3.20M188.76 227.83v3.20M192.10 227.83v6.20M214.11 227.83v3.20M226.98 227.83v3.20M236.11 227.83v3.20M243.19 227.83v3.20M248.98 227.83v3.20M253.88 227.83v3.20M258.12 227.83v3.20M261.86 227.83v3.20M265.20 227.83v6.20M287.21 227.83v3.20M300.08 227.83v3.20M309.21 227.83v3.20M316.29 227.83v3.20M322.08 227.83v3.20M326.98 227.83v3.20M331.22 227.83v3.20M334.96 227.83v3.20M338.30 227.83v6.20M37.40 327.32h3.30M350.60 327.32h-3.30M37.40 320.11h3.30M350.60 320.11h-3.30M37.40 312.90h6.00M350.60 312.90h-6.00M37.40 305.69h3.30M350.60 305.69h-3.30M37.40 298.48h3.30M350.60 298.48h-3.30M37.40 291.27h3.30M350.60 291.27h-3.30M37.40 284.06h3.30M350.60 284.06h-3.30M37.40 276.85h6.00M350.60 276.85h-6.00M37.40 269.64h3.30M350.60 269.64h-3.30M37.40 262.43h3.30M350.60 262.43h-3.30M37.40 255.22h3.30M350.60 255.22h-3.30M37.40 248.01h3.30M350.60 248.01h-3.30M37.40 240.80h6.00M350.60 240.80h-6.00M37.40 233.59h3.30M350.60 233.59h-3.30M350.60 227.83H663.70V332.30H350.60ZM351.92 227.83v3.20M355.66 227.83v3.20M359.00 227.83v6.20M381.01 227.83v3.20M393.88 227.83v3.20M403.01 227.83v3.20M410.09 227.83v3.20M415.88 227.83v3.20M420.78 227.83v3.20M425.02 227.83v3.20M428.76 227.83v3.20M432.10 227.83v6.20M454.11 227.83v3.20M466.98 227.83v3.20M476.11 227.83v3.20M483.19 227.83v3.20M488.98 227.83v3.20M493.88 227.83v3.20M498.12 227.83v3.20M501.86 227.83v3.20M505.20 227.83v6.20M527.21 227.83v3.20M540.08 227.83v3.20M549.21 227.83v3.20M556.29 227.83v3.20M562.08 227.83v3.20M566.98 227.83v3.20M571.22 227.83v3.20M574.96 227.83v3.20M578.30 227.83v6.20M600.31 227.83v3.20M613.18 227.83v3.20M622.31 227.83v3.20M629.39 227.83v3.20M635.18 227.83v3.20M640.08 227.83v3.20M644.32 227.83v3.20M648.06 227.83v3.20M651.40 227.83v6.20M350.60 331.18h3.30M663.70 331.18h-3.30M350.60 325.74h6.00M663.70 325.74h-6.00M350.60 320.31h3.30M663.70 320.31h-3.30M350.60 314.87h3.30M663.70 314.87h-3.30M350.60 309.44h3.30M663.70 309.44h-3.30M350.60 304.00h6.00M663.70 304.00h-6.00M350.60 298.56h3.30M663.70 298.56h-3.30M350.60 293.13h3.30M663.70 293.13h-3.30M350.60 287.69h3.30M663.70 287.69h-3.30M350.60 282.26h6.00M663.70 282.26h-6.00M350.60 276.82h3.30M663.70 276.82h-3.30M350.60 271.39h3.30M663.70 271.39h-3.30M350.60 265.95h3.30M663.70 265.95h-3.30M350.60 260.52h6.00M663.70 260.52h-6.00M350.60 255.09h3.30M663.70 255.09h-3.30M350.60 249.65h3.30M663.70 249.65h-3.30M350.60 244.22h3.30M663.70 244.22h-3.30M350.60 238.78h6.00M663.70 238.78h-6.00M350.60 233.34h3.30M663.70 233.34h-3.30M37.40 332.30H350.60V436.77H37.40ZM38.82 332.30v3.20M42.56 332.30v3.20M45.90 332.30v6.20M67.91 332.30v3.20M80.78 332.30v3.20M89.91 332.30v3.20M96.99 332.30v3.20M102.78 332.30v3.20M107.68 332.30v3.20M111.92 332.30v3.20M115.66 332.30v3.20M119.00 332.30v6.20M141.01 332.30v3.20M153.88 332.30v3.20M163.01 332.30v3.20M170.09 332.30v3.20M175.88 332.30v3.20M180.78 332.30v3.20M185.02 332.30v3.20M188.76 332.30v3.20M192.10 332.30v6.20M214.11 332.30v3.20M226.98 332.30v3.20M236.11 332.30v3.20M243.19 332.30v3.20M248.98 332.30v3.20M253.88 332.30v3.20M258.12 332.30v3.20M261.86 332.30v3.20M265.20 332.30v6.20M287.21 332.30v3.20M300.08 332.30v3.20M309.21 332.30v3.20M316.29 332.30v3.20M322.08 332.30v3.20M326.98 332.30v3.20M331.22 332.30v3.20M334.96 332.30v3.20M338.30 332.30v6.20M37.40 433.05h3.30M350.60 433.05h-3.30M37.40 429.22h6.00M350.60 429.22h-6.00M37.40 425.39h3.30M350.60 425.39h-3.30M37.40 421.56h3.30M350.60 421.56h-3.30M37.40 417.73h3.30M350.60 417.73h-3.30M37.40 413.90h6.00M350.60 413.90h-6.00M37.40 410.07h3.30M350.60 410.07h-3.30M37.40 406.24h3.30M350.60 406.24h-3.30M37.40 402.41h3.30M350.60 402.41h-3.30M37.40 398.58h6.00M350.60 398.58h-6.00M37.40 394.75h3.30M350.60 394.75h-3.30M37.40 390.92h3.30M350.60 390.92h-3.30M37.40 387.09h3.30M350.60 387.09h-3.30M37.40 383.26h6.00M350.60 383.26h-6.00M37.40 379.43h3.30M350.60 379.43h-3.30M37.40 375.60h3.30M350.60 375.60h-3.30M37.40 371.77h3.30M350.60 371.77h-3.30M37.40 367.94h6.00M350.60 367.94h-6.00M37.40 364.11h3.30M350.60 364.11h-3.30M37.40 360.28h3.30M350.60 360.28h-3.30M37.40 356.45h3.30M350.60 356.45h-3.30M37.40 352.62h6.00M350.60 352.62h-6.00M37.40 348.79h3.30M350.60 348.79h-3.30M37.40 344.96h3.30M350.60 344.96h-3.30M37.40 341.13h3.30M350.60 341.13h-3.30M37.40 337.30h6.00M350.60 337.30h-6.00M37.40 333.47h3.30M350.60 333.47h-3.30M350.60 332.30H663.70V436.77H350.60ZM351.92 332.30v3.20M355.66 332.30v3.20M359.00 332.30v6.20M381.01 332.30v3.20M393.88 332.30v3.20M403.01 332.30v3.20M410.09 332.30v3.20M415.88 332.30v3.20M420.78 332.30v3.20M425.02 332.30v3.20M428.76 332.30v3.20M432.10 332.30v6.20M454.11 332.30v3.20M466.98 332.30v3.20M476.11 332.30v3.20M483.19 332.30v3.20M488.98 332.30v3.20M493.88 332.30v3.20M498.12 332.30v3.20M501.86 332.30v3.20M505.20 332.30v6.20M527.21 332.30v3.20M540.08 332.30v3.20M549.21 332.30v3.20M556.29 332.30v3.20M562.08 332.30v3.20M566.98 332.30v3.20M571.22 332.30v3.20M574.96 332.30v3.20M578.30 332.30v6.20M600.31 332.30v3.20M613.18 332.30v3.20M622.31 332.30v3.20M629.39 332.30v3.20M635.18 332.30v3.20M640.08 332.30v3.20M644.32 332.30v3.20M648.06 332.30v3.20M651.40 332.30v6.20M350.60 430.97h3.30M663.70 430.97h-3.30M350.60 424.66h6.00M663.70 424.66h-6.00M350.60 418.34h3.30M663.70 418.34h-3.30M350.60 412.03h3.30M663.70 412.03h-3.30M350.60 405.71h3.30M663.70 405.71h-3.30M350.60 399.40h6.00M663.70 399.40h-6.00M350.60 393.08h3.30M663.70 393.08h-3.30M350.60 386.77h3.30M663.70 386.77h-3.30M350.60 380.45h3.30M663.70 380.45h-3.30M350.60 374.14h6.00M663.70 374.14h-6.00M350.60 367.82h3.30M663.70 367.82h-3.30M350.60 361.51h3.30M663.70 361.51h-3.30M350.60 355.19h3.30M663.70 355.19h-3.30M350.60 348.88h6.00M663.70 348.88h-6.00M350.60 342.56h3.30M663.70 342.56h-3.30M350.60 336.25h3.30M663.70 336.25h-3.30M37.40 436.77H350.60V541.23H37.40ZM38.82 436.77v3.20M42.56 436.77v3.20M45.90 436.77v6.20M67.91 436.77v3.20M80.78 436.77v3.20M89.91 436.77v3.20M96.99 436.77v3.20M102.78 436.77v3.20M107.68 436.77v3.20M111.92 436.77v3.20M115.66 436.77v3.20M119.00 436.77v6.20M141.01 436.77v3.20M153.88 436.77v3.20M163.01 436.77v3.20M170.09 436.77v3.20M175.88 436.77v3.20M180.78 436.77v3.20M185.02 436.77v3.20M188.76 436.77v3.20M192.10 436.77v6.20M214.11 436.77v3.20M226.98 436.77v3.20M236.11 436.77v3.20M243.19 436.77v3.20M248.98 436.77v3.20M253.88 436.77v3.20M258.12 436.77v3.20M261.86 436.77v3.20M265.20 436.77v6.20M287.21 436.77v3.20M300.08 436.77v3.20M309.21 436.77v3.20M316.29 436.77v3.20M322.08 436.77v3.20M326.98 436.77v3.20M331.22 436.77v3.20M334.96 436.77v3.20M338.30 436.77v6.20M37.40 538.88h3.30M350.60 538.88h-3.30M37.40 534.90h6.00M350.60 534.90h-6.00M37.40 530.92h3.30M350.60 530.92h-3.30M37.40 526.95h3.30M350.60 526.95h-3.30M37.40 522.98h3.30M350.60 522.98h-3.30M37.40 519.00h6.00M350.60 519.00h-6.00M37.40 515.02h3.30M350.60 515.02h-3.30M37.40 511.05h3.30M350.60 511.05h-3.30M37.40 507.07h3.30M350.60 507.07h-3.30M37.40 503.10h6.00M350.60 503.10h-6.00M37.40 499.12h3.30M350.60 499.12h-3.30M37.40 495.15h3.30M350.60 495.15h-3.30M37.40 491.18h3.30M350.60 491.18h-3.30M37.40 487.20h6.00M350.60 487.20h-6.00M37.40 483.23h3.30M350.60 483.23h-3.30M37.40 479.25h3.30M350.60 479.25h-3.30M37.40 475.27h3.30M350.60 475.27h-3.30M37.40 471.30h6.00M350.60 471.30h-6.00M37.40 467.32h3.30M350.60 467.32h-3.30M37.40 463.35h3.30M350.60 463.35h-3.30M37.40 459.38h3.30M350.60 459.38h-3.30M37.40 455.40h6.00M350.60 455.40h-6.00M37.40 451.43h3.30M350.60 451.43h-3.30M37.40 447.45h3.30M350.60 447.45h-3.30M37.40 443.48h3.30M350.60 443.48h-3.30M37.40 439.50h6.00M350.60 439.50h-6.00M350.60 436.77H663.70V541.23H350.60ZM351.92 436.77v3.20M355.66 436.77v3.20M359.00 436.77v6.20M381.01 436.77v3.20M393.88 436.77v3.20M403.01 436.77v3.20M410.09 436.77v3.20M415.88 436.77v3.20M420.78 436.77v3.20M425.02 436.77v3.20M428.76 436.77v3.20M432.10 436.77v6.20M454.11 436.77v3.20M466.98 436.77v3.20M476.11 436.77v3.20M483.19 436.77v3.20M488.98 436.77v3.20M493.88 436.77v3.20M498.12 436.77v3.20M501.86 436.77v3.20M505.20 436.77v6.20M527.21 436.77v3.20M540.08 436.77v3.20M549.21 436.77v3.20M556.29 436.77v3.20M562.08 436.77v3.20M566.98 436.77v3.20M571.22 436.77v3.20M574.96 436.77v3.20M578.30 436.77v6.20M600.31 436.77v3.20M613.18 436.77v3.20M622.31 436.77v3.20M629.39 436.77v3.20M635.18 436.77v3.20M640.08 436.77v3.20M644.32 436.77v3.20M648.06 436.77v3.20M651.40 436.77v6.20M350.60 537.17h3.30M663.70 537.17h-3.30M350.60 531.70h6.00M663.70 531.70h-6.00M350.60 526.23h3.30M663.70 526.23h-3.30M350.60 520.75h3.30M663.70 520.75h-3.30M350.60 515.27h3.30M663.70 515.27h-3.30M350.60 509.80h6.00M663.70 509.80h-6.00M350.60 504.32h3.30M663.70 504.32h-3.30M350.60 498.85h3.30M663.70 498.85h-3.30M350.60 493.38h3.30M663.70 493.38h-3.30M350.60 487.90h6.00M663.70 487.90h-6.00M350.60 482.43h3.30M663.70 482.43h-3.30M350.60 476.95h3.30M663.70 476.95h-3.30M350.60 471.48h3.30M663.70 471.48h-3.30M350.60 466.00h6.00M663.70 466.00h-6.00M350.60 460.53h3.30M663.70 460.53h-3.30M350.60 455.05h3.30M663.70 455.05h-3.30M350.60 449.58h3.30M663.70 449.58h-3.30M350.60 444.10h6.00M663.70 444.10h-6.00M350.60 438.62h3.30M663.70 438.62h-3.30M37.40 541.23H350.60V645.70H37.40ZM38.82 541.23v3.20M42.56 541.23v3.20M45.90 541.23v6.20M67.91 541.23v3.20M80.78 541.23v3.20M89.91 541.23v3.20M96.99 541.23v3.20M102.78 541.23v3.20M107.68 541.23v3.20M111.92 541.23v3.20M115.66 541.23v3.20M119.00 541.23v6.20M141.01 541.23v3.20M153.88 541.23v3.20M163.01 541.23v3.20M170.09 541.23v3.20M175.88 541.23v3.20M180.78 541.23v3.20M185.02 541.23v3.20M188.76 541.23v3.20M192.10 541.23v6.20M214.11 541.23v3.20M226.98 541.23v3.20M236.11 541.23v3.20M243.19 541.23v3.20M248.98 541.23v3.20M253.88 541.23v3.20M258.12 541.23v3.20M261.86 541.23v3.20M265.20 541.23v6.20M287.21 541.23v3.20M300.08 541.23v3.20M309.21 541.23v3.20M316.29 541.23v3.20M322.08 541.23v3.20M326.98 541.23v3.20M331.22 541.23v3.20M334.96 541.23v3.20M338.30 541.23v6.20M37.40 642.17h3.30M350.60 642.17h-3.30M37.40 638.32h6.00M350.60 638.32h-6.00M37.40 634.47h3.30M350.60 634.47h-3.30M37.40 630.61h3.30M350.60 630.61h-3.30M37.40 626.75h3.30M350.60 626.75h-3.30M37.40 622.90h6.00M350.60 622.90h-6.00M37.40 619.04h3.30M350.60 619.04h-3.30M37.40 615.19h3.30M350.60 615.19h-3.30M37.40 611.33h3.30M350.60 611.33h-3.30M37.40 607.48h6.00M350.60 607.48h-6.00M37.40 603.62h3.30M350.60 603.62h-3.30M37.40 599.77h3.30M350.60 599.77h-3.30M37.40 595.91h3.30M350.60 595.91h-3.30M37.40 592.06h6.00M350.60 592.06h-6.00M37.40 588.20h3.30M350.60 588.20h-3.30M37.40 584.35h3.30M350.60 584.35h-3.30M37.40 580.50h3.30M350.60 580.50h-3.30M37.40 576.64h6.00M350.60 576.64h-6.00M37.40 572.78h3.30M350.60 572.78h-3.30M37.40 568.93h3.30M350.60 568.93h-3.30M37.40 565.07h3.30M350.60 565.07h-3.30M37.40 561.22h6.00M350.60 561.22h-6.00M37.40 557.37h3.30M350.60 557.37h-3.30M37.40 553.51h3.30M350.60 553.51h-3.30M37.40 549.65h3.30M350.60 549.65h-3.30M37.40 545.80h6.00M350.60 545.80h-6.00M37.40 541.94h3.30M350.60 541.94h-3.30M350.60 541.23H663.70V645.70H350.60ZM351.92 541.23v3.20M355.66 541.23v3.20M359.00 541.23v6.20M381.01 541.23v3.20M393.88 541.23v3.20M403.01 541.23v3.20M410.09 541.23v3.20M415.88 541.23v3.20M420.78 541.23v3.20M425.02 541.23v3.20M428.76 541.23v3.20M432.10 541.23v6.20M454.11 541.23v3.20M466.98 541.23v3.20M476.11 541.23v3.20M483.19 541.23v3.20M488.98 541.23v3.20M493.88 541.23v3.20M498.12 541.23v3.20M501.86 541.23v3.20M505.20 541.23v6.20M527.21 541.23v3.20M540.08 541.23v3.20M549.21 541.23v3.20M556.29 541.23v3.20M562.08 541.23v3.20M566.98 541.23v3.20M571.22 541.23v3.20M574.96 541.23v3.20M578.30 541.23v6.20M600.31 541.23v3.20M613.18 541.23v3.20M622.31 541.23v3.20M629.39 541.23v3.20M635.18 541.23v3.20M640.08 541.23v3.20M644.32 541.23v3.20M648.06 541.23v3.20M651.40 541.23v6.20M350.60 641.20h3.30M663.70 641.20h-3.30M350.60 635.08h6.00M663.70 635.08h-6.00M350.60 628.96h3.30M663.70 628.96h-3.30M350.60 622.84h3.30M663.70 622.84h-3.30M350.60 616.72h3.30M663.70 616.72h-3.30M350.60 610.60h6.00M663.70 610.60h-6.00M350.60 604.48h3.30M663.70 604.48h-3.30M350.60 598.36h3.30M663.70 598.36h-3.30M350.60 592.24h3.30M663.70 592.24h-3.30M350.60 586.12h6.00M663.70 586.12h-6.00M350.60 580.00h3.30M663.70 580.00h-3.30M350.60 573.88h3.30M663.70 573.88h-3.30M350.60 567.76h3.30M663.70 567.76h-3.30M350.60 561.64h6.00M663.70 561.64h-6.00M350.60 555.52h3.30M663.70 555.52h-3.30M350.60 549.40h3.30M663.70 549.40h-3.30M350.60 543.28h3.30M663.70 543.28h-3.30M38.82 645.70v3.00M42.56 645.70v3.00M45.90 645.70v6.00M67.91 645.70v3.00M80.78 645.70v3.00M89.91 645.70v3.00M96.99 645.70v3.00M102.78 645.70v3.00M107.68 645.70v3.00M111.92 645.70v3.00M115.66 645.70v3.00M119.00 645.70v6.00M141.01 645.70v3.00M153.88 645.70v3.00M163.01 645.70v3.00M170.09 645.70v3.00M175.88 645.70v3.00M180.78 645.70v3.00M185.02 645.70v3.00M188.76 645.70v3.00M192.10 645.70v6.00M214.11 645.70v3.00M226.98 645.70v3.00M236.11 645.70v3.00M243.19 645.70v3.00M248.98 645.70v3.00M253.88 645.70v3.00M258.12 645.70v3.00M261.86 645.70v3.00M265.20 645.70v6.00M287.21 645.70v3.00M300.08 645.70v3.00M309.21 645.70v3.00M316.29 645.70v3.00M322.08 645.70v3.00M326.98 645.70v3.00M331.22 645.70v3.00M334.96 645.70v3.00M338.30 645.70v6.00M351.92 645.70v3.00M355.66 645.70v3.00M359.00 645.70v6.00M381.01 645.70v3.00M393.88 645.70v3.00M403.01 645.70v3.00M410.09 645.70v3.00M415.88 645.70v3.00M420.78 645.70v3.00M425.02 645.70v3.00M428.76 645.70v3.00M432.10 645.70v6.00M454.11 645.70v3.00M466.98 645.70v3.00M476.11 645.70v3.00M483.19 645.70v3.00M488.98 645.70v3.00M493.88 645.70v3.00M498.12 645.70v3.00M501.86 645.70v3.00M505.20 645.70v6.00M527.21 645.70v3.00M540.08 645.70v3.00M549.21 645.70v3.00M556.29 645.70v3.00M562.08 645.70v3.00M566.98 645.70v3.00M571.22 645.70v3.00M574.96 645.70v3.00M578.30 645.70v6.00M600.31 645.70v3.00M613.18 645.70v3.00M622.31 645.70v3.00M629.39 645.70v3.00M635.18 645.70v3.00M640.08 645.70v3.00M644.32 645.70v3.00M648.06 645.70v3.00M651.40 645.70v6.00" fill="none" stroke="#111" stroke-width="1.15"/><text transform="translate(29.10 117.64) rotate(-90)" text-anchor="middle" font-size="11" fill="#111">−2</text><text transform="translate(29.10 92.10) rotate(-90)" text-anchor="middle" font-size="11" fill="#111">0</text><text transform="translate(29.10 66.56) rotate(-90)" text-anchor="middle" font-size="11" fill="#111">2</text><text transform="translate(29.10 41.02) rotate(-90)" text-anchor="middle" font-size="11" fill="#111">4</text><text transform="translate(679.10 100.20) rotate(-90)" text-anchor="middle" font-size="11" fill="#111">0</text><text transform="translate(679.10 76.10) rotate(-90)" text-anchor="middle" font-size="11" fill="#111">2</text><text transform="translate(679.10 52.00) rotate(-90)" text-anchor="middle" font-size="11" fill="#111">4</text><text transform="translate(679.10 27.90) rotate(-90)" text-anchor="middle" font-size="11" fill="#111">6</text><text transform="translate(29.10 215.80) rotate(-90)" text-anchor="middle" font-size="11" fill="#111">−2</text><text transform="translate(29.10 190.60) rotate(-90)" text-anchor="middle" font-size="11" fill="#111">0</text><text transform="translate(29.10 165.40) rotate(-90)" text-anchor="middle" font-size="11" fill="#111">2</text><text transform="translate(29.10 140.20) rotate(-90)" text-anchor="middle" font-size="11" fill="#111">4</text><text transform="translate(679.10 228.00) rotate(-90)" text-anchor="middle" font-size="11" fill="#111">0</text><text transform="translate(679.10 206.25) rotate(-90)" text-anchor="middle" font-size="11" fill="#111">5</text><text transform="translate(679.10 184.50) rotate(-90)" text-anchor="middle" font-size="11" fill="#111">10</text><text transform="translate(679.10 162.75) rotate(-90)" text-anchor="middle" font-size="11" fill="#111">15</text><text transform="translate(679.10 141.00) rotate(-90)" text-anchor="middle" font-size="11" fill="#111">20</text><text transform="translate(29.10 312.90) rotate(-90)" text-anchor="middle" font-size="11" fill="#111">0</text><text transform="translate(29.10 276.85) rotate(-90)" text-anchor="middle" font-size="11" fill="#111">5</text><text transform="translate(29.10 240.80) rotate(-90)" text-anchor="middle" font-size="11" fill="#111">10</text><text transform="translate(679.10 325.74) rotate(-90)" text-anchor="middle" font-size="11" fill="#111">−2</text><text transform="translate(679.10 304.00) rotate(-90)" text-anchor="middle" font-size="11" fill="#111">0</text><text transform="translate(679.10 282.26) rotate(-90)" text-anchor="middle" font-size="11" fill="#111">2</text><text transform="translate(679.10 260.52) rotate(-90)" text-anchor="middle" font-size="11" fill="#111">4</text><text transform="translate(679.10 238.78) rotate(-90)" text-anchor="middle" font-size="11" fill="#111">6</text><text transform="translate(29.10 429.22) rotate(-90)" text-anchor="middle" font-size="11" fill="#111">−2</text><text transform="translate(29.10 413.90) rotate(-90)" text-anchor="middle" font-size="11" fill="#111">0</text><text transform="translate(29.10 398.58) rotate(-90)" text-anchor="middle" font-size="11" fill="#111">2</text><text transform="translate(29.10 383.26) rotate(-90)" text-anchor="middle" font-size="11" fill="#111">4</text><text transform="translate(29.10 367.94) rotate(-90)" text-anchor="middle" font-size="11" fill="#111">6</text><text transform="translate(29.10 352.62) rotate(-90)" text-anchor="middle" font-size="11" fill="#111">8</text><text transform="translate(29.10 337.30) rotate(-90)" text-anchor="middle" font-size="11" fill="#111">10</text><text transform="translate(679.10 424.66) rotate(-90)" text-anchor="middle" font-size="11" fill="#111">−2</text><text transform="translate(679.10 399.40) rotate(-90)" text-anchor="middle" font-size="11" fill="#111">0</text><text transform="translate(679.10 374.14) rotate(-90)" text-anchor="middle" font-size="11" fill="#111">2</text><text transform="translate(679.10 348.88) rotate(-90)" text-anchor="middle" font-size="11" fill="#111">4</text><text transform="translate(29.10 534.90) rotate(-90)" text-anchor="middle" font-size="11" fill="#111">−2</text><text transform="translate(29.10 519.00) rotate(-90)" text-anchor="middle" font-size="11" fill="#111">0</text><text transform="translate(29.10 503.10) rotate(-90)" text-anchor="middle" font-size="11" fill="#111">2</text><text transform="translate(29.10 487.20) rotate(-90)" text-anchor="middle" font-size="11" fill="#111">4</text><text transform="translate(29.10 471.30) rotate(-90)" text-anchor="middle" font-size="11" fill="#111">6</text><text transform="translate(29.10 455.40) rotate(-90)" text-anchor="middle" font-size="11" fill="#111">8</text><text transform="translate(29.10 439.50) rotate(-90)" text-anchor="middle" font-size="11" fill="#111">10</text><text transform="translate(679.10 531.70) rotate(-90)" text-anchor="middle" font-size="11" fill="#111">−2</text><text transform="translate(679.10 509.80) rotate(-90)" text-anchor="middle" font-size="11" fill="#111">0</text><text transform="translate(679.10 487.90) rotate(-90)" text-anchor="middle" font-size="11" fill="#111">2</text><text transform="translate(679.10 466.00) rotate(-90)" text-anchor="middle" font-size="11" fill="#111">4</text><text transform="translate(679.10 444.10) rotate(-90)" text-anchor="middle" font-size="11" fill="#111">6</text><text transform="translate(29.10 638.32) rotate(-90)" text-anchor="middle" font-size="11" fill="#111">−2</text><text transform="translate(29.10 622.90) rotate(-90)" text-anchor="middle" font-size="11" fill="#111">0</text><text transform="translate(29.10 607.48) rotate(-90)" text-anchor="middle" font-size="11" fill="#111">2</text><text transform="translate(29.10 592.06) rotate(-90)" text-anchor="middle" font-size="11" fill="#111">4</text><text transform="translate(29.10 576.64) rotate(-90)" text-anchor="middle" font-size="11" fill="#111">6</text><text transform="translate(29.10 561.22) rotate(-90)" text-anchor="middle" font-size="11" fill="#111">8</text><text transform="translate(29.10 545.80) rotate(-90)" text-anchor="middle" font-size="11" fill="#111">10</text><text transform="translate(679.10 635.08) rotate(-90)" text-anchor="middle" font-size="11" fill="#111">−2</text><text transform="translate(679.10 610.60) rotate(-90)" text-anchor="middle" font-size="11" fill="#111">0</text><text transform="translate(679.10 586.12) rotate(-90)" text-anchor="middle" font-size="11" fill="#111">2</text><text transform="translate(679.10 561.64) rotate(-90)" text-anchor="middle" font-size="11" fill="#111">4</text><text x="47.30" y="10.80" text-anchor="middle" font-size="10.5" fill="#111">10<tspan font-size="7.8" dy="-4.8">0</tspan></text><text x="47.30" y="660.70" text-anchor="middle" font-size="10.5" fill="#111">10<tspan font-size="7.8" dy="-4.8">0</tspan></text><text x="120.40" y="10.80" text-anchor="middle" font-size="10.5" fill="#111">10<tspan font-size="7.8" dy="-4.8">1</tspan></text><text x="120.40" y="660.70" text-anchor="middle" font-size="10.5" fill="#111">10<tspan font-size="7.8" dy="-4.8">1</tspan></text><text x="193.50" y="10.80" text-anchor="middle" font-size="10.5" fill="#111">10<tspan font-size="7.8" dy="-4.8">2</tspan></text><text x="193.50" y="660.70" text-anchor="middle" font-size="10.5" fill="#111">10<tspan font-size="7.8" dy="-4.8">2</tspan></text><text x="266.60" y="10.80" text-anchor="middle" font-size="10.5" fill="#111">10<tspan font-size="7.8" dy="-4.8">3</tspan></text><text x="266.60" y="660.70" text-anchor="middle" font-size="10.5" fill="#111">10<tspan font-size="7.8" dy="-4.8">3</tspan></text><text x="339.70" y="10.80" text-anchor="middle" font-size="10.5" fill="#111">10<tspan font-size="7.8" dy="-4.8">4</tspan></text><text x="339.70" y="660.70" text-anchor="middle" font-size="10.5" fill="#111">10<tspan font-size="7.8" dy="-4.8">4</tspan></text><text x="360.40" y="10.80" text-anchor="middle" font-size="10.5" fill="#111">10<tspan font-size="7.8" dy="-4.8">0</tspan></text><text x="360.40" y="660.70" text-anchor="middle" font-size="10.5" fill="#111">10<tspan font-size="7.8" dy="-4.8">0</tspan></text><text x="433.50" y="10.80" text-anchor="middle" font-size="10.5" fill="#111">10<tspan font-size="7.8" dy="-4.8">1</tspan></text><text x="433.50" y="660.70" text-anchor="middle" font-size="10.5" fill="#111">10<tspan font-size="7.8" dy="-4.8">1</tspan></text><text x="506.60" y="10.80" text-anchor="middle" font-size="10.5" fill="#111">10<tspan font-size="7.8" dy="-4.8">2</tspan></text><text x="506.60" y="660.70" text-anchor="middle" font-size="10.5" fill="#111">10<tspan font-size="7.8" dy="-4.8">2</tspan></text><text x="579.70" y="10.80" text-anchor="middle" font-size="10.5" fill="#111">10<tspan font-size="7.8" dy="-4.8">3</tspan></text><text x="579.70" y="660.70" text-anchor="middle" font-size="10.5" fill="#111">10<tspan font-size="7.8" dy="-4.8">3</tspan></text><text x="652.80" y="10.80" text-anchor="middle" font-size="10.5" fill="#111">10<tspan font-size="7.8" dy="-4.8">4</tspan></text><text x="652.80" y="660.70" text-anchor="middle" font-size="10.5" fill="#111">10<tspan font-size="7.8" dy="-4.8">4</tspan></text><text x="350.7" y="677.9" text-anchor="middle" font-size="14.5" fill="#111">Period [day]</text><text transform="translate(10.9 332.3) rotate(-90)" text-anchor="middle" font-size="14.5" fill="#111">ln(BF)</text><text transform="translate(696.9 332.3) rotate(-90)" text-anchor="middle" font-size="14.5" fill="#111">ln(BF)</text></svg></body></html>
